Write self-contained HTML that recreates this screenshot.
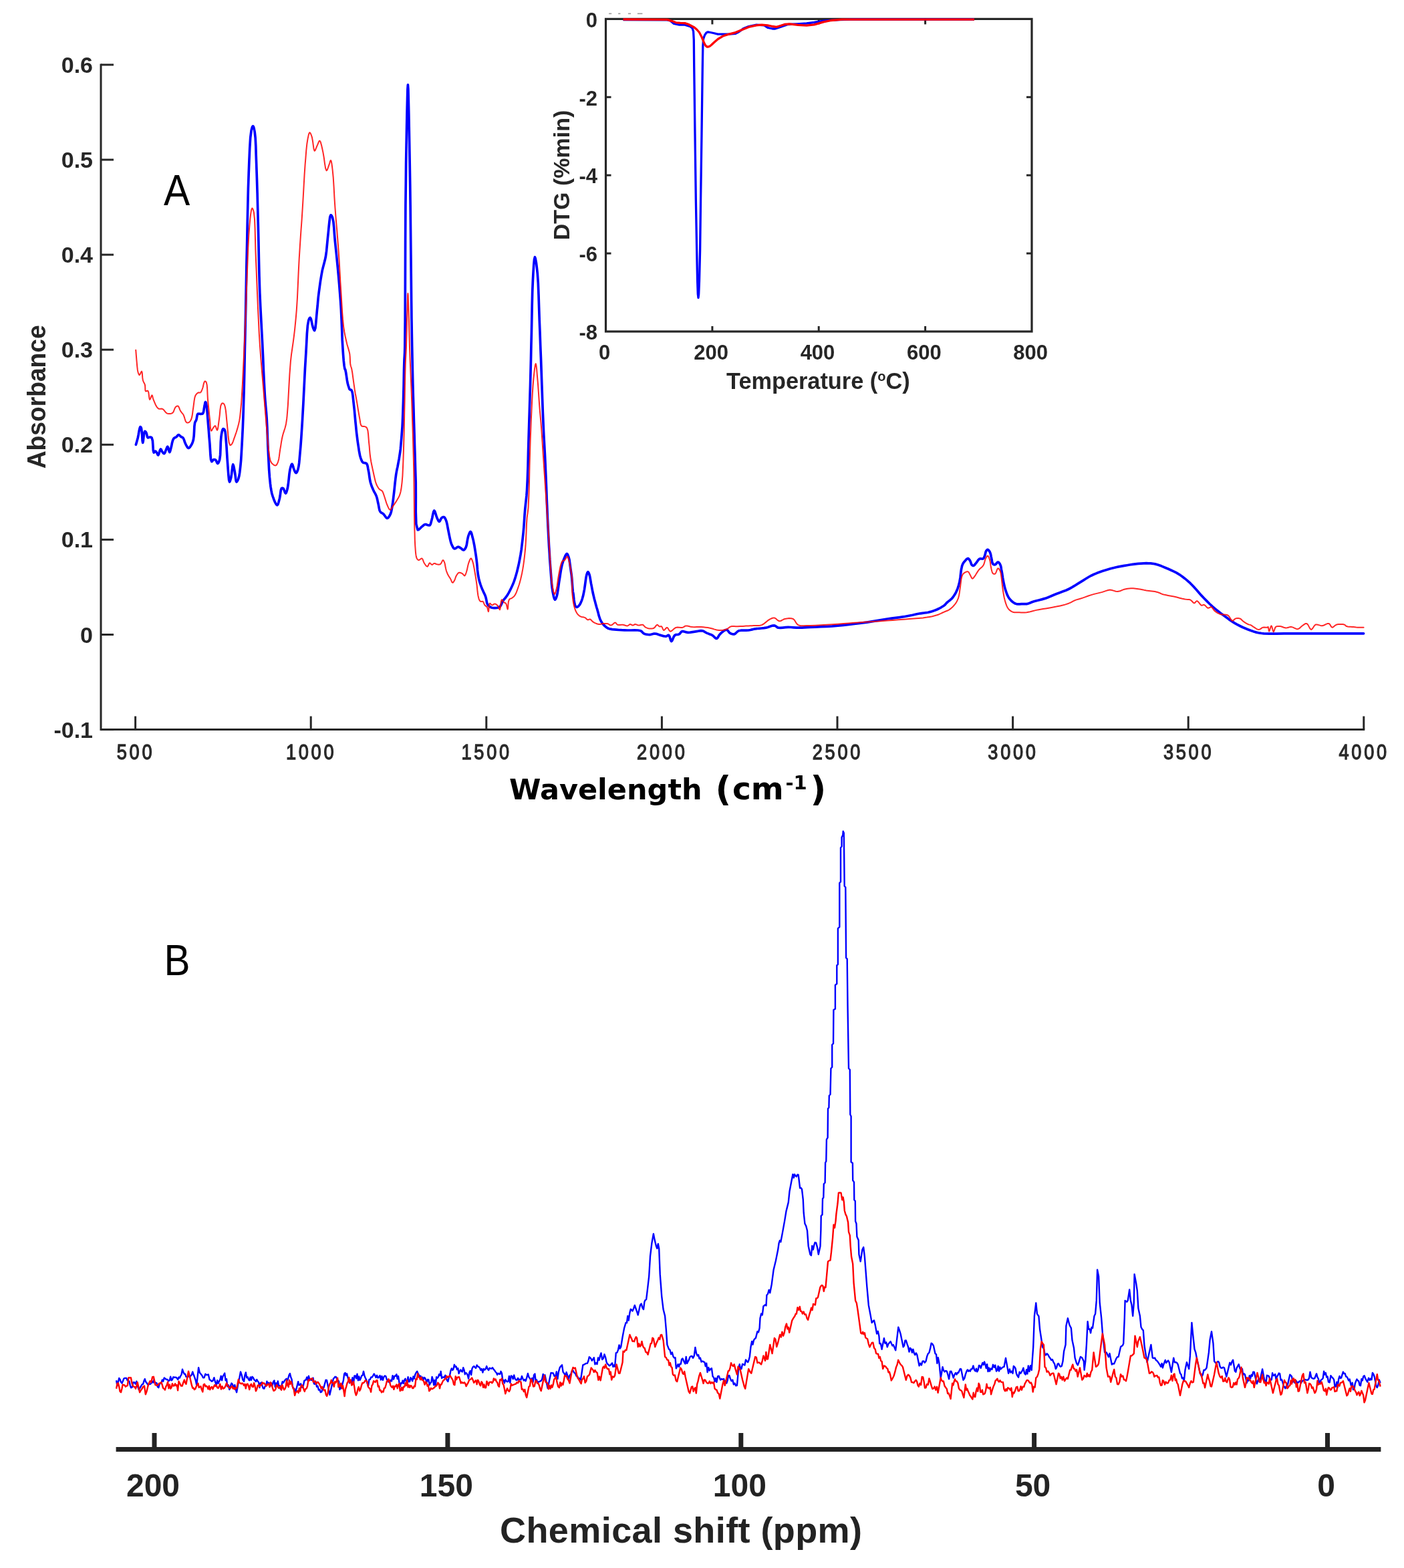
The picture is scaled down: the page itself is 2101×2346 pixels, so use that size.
<!DOCTYPE html><html><head><meta charset="utf-8"><title>Figure</title><style>html,body{margin:0;padding:0;background:#fff;overflow:hidden}svg{display:block}</style></head><body>
<svg width="2101" height="2346" viewBox="0 0 2101 2346">
<rect width="2101" height="2346" fill="#fff"/>
<g stroke="#262626" stroke-width="3" fill="none" stroke-linecap="square">
<polyline points="151,96.9 151,1091.6 2040.8,1091.6"/>
<line x1="151" y1="1091.6" x2="170" y2="1091.6" stroke-linecap="butt"/>
<line x1="151" y1="949.5" x2="170" y2="949.5" stroke-linecap="butt"/>
<line x1="151" y1="807.4" x2="170" y2="807.4" stroke-linecap="butt"/>
<line x1="151" y1="665.3" x2="170" y2="665.3" stroke-linecap="butt"/>
<line x1="151" y1="523.2" x2="170" y2="523.2" stroke-linecap="butt"/>
<line x1="151" y1="381.1" x2="170" y2="381.1" stroke-linecap="butt"/>
<line x1="151" y1="239.0" x2="170" y2="239.0" stroke-linecap="butt"/>
<line x1="151" y1="96.9" x2="170" y2="96.9" stroke-linecap="butt"/>
<line x1="202.6" y1="1091" x2="202.6" y2="1071.6" stroke-linecap="butt"/>
<line x1="465.2" y1="1091" x2="465.2" y2="1071.6" stroke-linecap="butt"/>
<line x1="727.8" y1="1091" x2="727.8" y2="1071.6" stroke-linecap="butt"/>
<line x1="990.4" y1="1091" x2="990.4" y2="1071.6" stroke-linecap="butt"/>
<line x1="1253.0" y1="1091" x2="1253.0" y2="1071.6" stroke-linecap="butt"/>
<line x1="1515.6" y1="1091" x2="1515.6" y2="1071.6" stroke-linecap="butt"/>
<line x1="1778.2" y1="1091" x2="1778.2" y2="1071.6" stroke-linecap="butt"/>
<line x1="2040.8" y1="1091" x2="2040.8" y2="1071.6" stroke-linecap="butt"/>
</g>
<g font-family="Liberation Sans, Arial, Helvetica, sans-serif" font-weight="bold" font-size="34" fill="#262626" text-anchor="end">
<text x="139" y="1103.6">-0.1</text>
<text x="139" y="961.5">0</text>
<text x="139" y="819.4">0.1</text>
<text x="139" y="677.3">0.2</text>
<text x="139" y="535.2">0.3</text>
<text x="139" y="393.1">0.4</text>
<text x="139" y="251.0">0.5</text>
<text x="139" y="108.9">0.6</text>
</g>
<g font-family="Liberation Sans, Arial, Helvetica, sans-serif" font-size="32" fill="#2a2a2a" stroke="#2a2a2a" stroke-width="1.3" text-anchor="middle" letter-spacing="4.4">
<text transform="translate(203.0,1135.8) scale(0.85,1)">500</text>
<text transform="translate(465.6,1135.8) scale(0.85,1)">1000</text>
<text transform="translate(728.2,1135.8) scale(0.85,1)">1500</text>
<text transform="translate(990.8,1135.8) scale(0.85,1)">2000</text>
<text transform="translate(1253.4,1135.8) scale(0.85,1)">2500</text>
<text transform="translate(1516.0,1135.8) scale(0.85,1)">3000</text>
<text transform="translate(1778.6,1135.8) scale(0.85,1)">3500</text>
<text transform="translate(2041.2,1135.8) scale(0.85,1)">4000</text>
</g>
<text font-family="Liberation Sans, Arial, Helvetica, sans-serif" font-weight="bold" font-size="38.5" fill="#262626" text-anchor="middle" transform="translate(67.8,593.8) rotate(-90) scale(0.967,1)">Absorbance</text>
<text font-family="DejaVu Sans, Verdana, sans-serif" font-weight="bold" fill="#000" font-size="43" x="762" y="1196.4">Wavelength</text>
<text font-family="DejaVu Sans, Verdana, sans-serif" font-weight="bold" fill="#000" font-size="52" x="1070.5" y="1198">(</text>
<text font-family="DejaVu Sans, Verdana, sans-serif" font-weight="bold" fill="#000" font-size="47" x="1096" y="1196.4">cm</text>
<text font-family="DejaVu Sans, Verdana, sans-serif" font-weight="bold" fill="#000" font-size="29" x="1175.5" y="1180.7">-1</text>
<text font-family="DejaVu Sans, Verdana, sans-serif" font-weight="bold" fill="#000" font-size="52" x="1212.5" y="1198">)</text>
<text font-family="Liberation Sans, Arial, Helvetica, sans-serif" font-size="64" fill="#000" transform="translate(245,306.9) scale(0.92,1)">A</text>
<polyline points="203.4,665.3 203.7,664.2 204.5,661.6 205.4,658.2 206.3,654.9 207.2,650.4 208.1,645.0 209.1,640.6 210.0,638.6 210.4,638.7 210.8,639.3 211.2,640.0 211.5,640.9 212.2,645.7 212.7,652.9 213.1,659.5 213.7,662.4 214.3,659.8 214.9,654.0 215.7,648.2 216.7,645.3 217.2,645.4 217.8,645.9 218.4,646.7 218.9,647.5 219.5,649.3 220.0,651.6 220.5,653.7 221.2,654.9 221.7,654.9 222.2,654.7 222.8,654.4 223.4,654.2 224.3,654.1 225.3,654.1 226.3,654.3 227.1,654.9 228.4,659.4 228.9,666.8 229.3,673.8 230.1,677.2 230.6,676.9 231.2,676.2 231.7,675.4 232.3,675.0 232.9,675.2 233.4,675.8 234.0,676.5 234.5,677.2 235.1,678.2 235.6,679.5 236.1,680.5 236.7,680.9 237.6,679.5 238.5,676.5 239.5,673.4 240.4,672.0 241.0,672.4 241.5,673.4 242.1,674.6 242.7,675.7 243.4,676.7 244.1,677.7 244.9,678.4 245.6,678.7 246.4,677.9 247.2,676.3 247.9,674.4 248.6,672.7 249.2,671.3 249.7,669.9 250.3,668.7 250.8,668.3 251.6,669.6 252.3,672.4 253.1,675.2 253.8,676.5 254.4,675.8 254.9,674.1 255.4,672.0 256.0,669.8 256.8,666.5 257.5,662.7 258.5,659.1 259.7,656.4 260.7,655.4 261.9,654.7 263.1,654.2 264.2,653.5 265.0,652.6 265.7,651.7 266.4,650.9 267.1,650.5 268.0,650.8 269.0,651.7 270.0,652.7 270.9,653.5 271.7,653.9 272.4,654.1 273.1,654.4 273.8,654.9 274.8,656.6 275.7,658.9 276.5,661.5 277.5,663.8 278.5,665.9 279.7,668.0 280.8,669.7 282.0,670.5 282.9,670.2 283.9,669.3 284.8,668.1 285.7,666.8 286.8,665.0 287.8,662.9 288.6,660.6 289.4,657.9 290.2,652.0 290.6,644.8 290.9,637.8 291.6,632.7 292.1,631.3 292.7,630.3 293.3,629.4 293.8,628.2 294.3,625.9 294.7,623.3 295.2,620.8 296.1,619.3 296.9,619.0 297.8,619.1 298.8,619.2 299.8,619.3 300.8,619.3 301.8,619.2 302.7,619.1 303.5,618.6 304.4,616.9 304.9,614.4 305.3,611.6 305.7,609.0 306.2,606.7 306.6,604.3 307.0,602.3 307.5,601.5 307.8,601.7 308.1,602.4 308.4,603.4 308.7,604.5 309.3,608.5 309.9,614.0 310.4,620.3 310.9,626.8 311.6,635.5 312.4,645.1 313.1,654.8 313.9,663.8 314.4,672.0 314.9,680.5 315.6,687.5 316.8,690.6 317.5,690.3 318.2,689.3 319.0,688.2 319.8,687.6 320.5,687.5 321.3,687.6 322.1,687.9 322.8,688.3 323.6,689.5 324.3,691.2 325.0,692.8 325.7,693.5 326.5,693.0 327.3,691.6 328.0,689.7 328.7,687.6 329.6,680.7 330.0,671.2 330.3,661.4 330.9,653.5 331.5,649.6 332.2,645.9 333.0,643.0 333.9,641.6 334.4,641.6 335.0,641.9 335.6,642.4 336.1,643.1 337.0,646.0 337.6,650.4 338.0,655.6 338.4,660.9 339.0,668.4 339.5,676.8 340.0,685.3 340.6,693.5 341.2,701.8 341.9,710.8 342.6,718.0 343.5,721.0 344.0,720.4 344.6,718.7 345.2,716.6 345.8,714.3 346.6,709.3 347.3,702.9 348.0,697.4 348.7,695.0 349.4,696.5 350.2,700.0 351.0,704.4 351.7,708.4 352.2,712.1 352.7,716.2 353.2,719.5 353.9,721.0 354.6,720.6 355.4,719.3 356.2,717.6 356.9,715.8 357.9,712.0 358.7,707.3 359.3,702.0 359.9,696.5 360.6,689.1 361.1,681.2 361.6,672.7 362.1,663.8 362.7,652.2 363.3,640.0 363.8,626.7 364.3,611.9 365.1,585.0 365.8,554.0 366.4,521.3 367.1,489.3 367.8,457.2 368.4,424.6 369.0,392.4 369.7,361.4 370.2,334.5 370.8,308.0 371.4,282.7 372.2,259.1 372.9,240.5 373.7,222.0 374.7,206.0 376.1,195.1 376.7,192.7 377.3,190.6 378.0,189.2 378.6,188.7 379.3,189.5 380.0,191.6 380.6,194.5 381.2,197.7 382.2,206.8 382.8,218.6 383.2,232.2 383.7,246.3 384.4,266.6 385.1,289.0 385.7,312.4 386.3,335.8 386.9,361.3 387.4,387.5 388.0,413.5 388.8,438.2 389.7,458.2 390.7,477.3 391.7,496.1 392.7,514.9 393.6,534.3 394.4,554.0 395.3,572.9 396.2,589.7 396.9,599.7 397.7,608.7 398.5,617.4 399.2,626.8 399.8,639.3 400.3,652.5 400.8,665.8 401.4,678.7 402.0,690.5 402.6,702.3 403.4,713.5 404.4,723.2 405.1,728.7 405.9,733.6 406.8,738.2 408.1,742.5 409.6,746.7 411.4,751.1 413.2,754.5 414.8,755.8 415.9,754.7 416.8,752.0 417.7,748.6 418.5,745.4 419.2,741.4 419.8,736.8 420.4,732.9 421.4,730.6 421.9,730.3 422.5,730.2 423.1,730.3 423.7,730.6 424.7,732.1 425.7,734.6 426.5,737.0 427.4,738.0 428.2,737.3 428.9,735.5 429.6,733.2 430.3,730.6 431.3,724.4 432.2,716.6 433.0,708.7 434.0,702.4 434.7,699.6 435.5,697.0 436.2,695.1 437.0,694.3 437.7,695.2 438.5,697.5 439.2,700.1 440.0,702.4 440.7,704.0 441.4,705.7 442.2,707.1 442.9,707.6 443.7,707.1 444.5,705.9 445.2,704.3 445.9,702.4 446.9,697.9 447.7,692.2 448.3,685.7 448.9,678.7 449.9,667.5 450.8,655.1 451.7,641.4 452.6,626.8 453.9,603.4 455.2,577.1 456.5,550.8 457.9,527.7 458.7,513.0 459.4,498.9 460.4,487.0 461.8,479.1 462.4,477.6 463.0,476.4 463.7,475.5 464.3,475.3 465.3,477.1 466.3,481.1 467.2,485.7 468.2,489.3 468.8,491.1 469.5,492.8 470.1,494.0 470.7,494.5 471.9,491.0 472.8,482.7 473.7,472.7 474.5,463.8 475.2,457.3 475.7,451.1 476.3,444.8 477.1,438.2 478.2,430.0 479.4,421.3 480.8,412.7 482.2,404.9 483.5,399.6 484.8,394.7 486.1,389.8 487.3,384.4 488.5,376.0 489.4,366.8 490.3,357.4 491.2,348.6 492.0,340.4 492.9,331.8 493.8,324.8 495.0,321.8 495.6,322.0 496.3,322.9 497.0,324.1 497.6,325.6 498.9,331.8 499.8,340.8 500.5,351.1 501.4,361.4 502.7,373.6 504.0,386.4 505.3,399.6 506.5,412.6 507.6,425.3 508.6,438.0 509.6,450.8 510.4,463.8 511.1,478.6 511.7,494.0 512.2,508.9 513.0,522.2 513.6,531.1 514.3,539.9 515.1,547.2 515.9,551.7 516.1,552.2 516.3,552.5 516.6,552.8 516.8,553.3 517.6,557.1 518.5,563.0 519.4,569.1 520.3,573.8 520.7,575.3 521.1,576.6 521.5,577.8 521.9,578.9 522.2,580.0 522.5,581.0 522.8,582.0 523.3,582.7 523.9,583.0 524.6,583.2 525.3,583.3 526.0,583.8 527.2,587.0 528.0,592.0 528.6,597.8 529.2,603.4 529.8,608.8 530.4,614.4 530.9,619.9 531.4,625.5 531.9,631.0 532.5,636.6 533.0,642.2 533.6,647.7 534.3,653.3 535.0,659.0 535.8,664.6 536.6,669.8 537.2,673.8 537.9,677.7 538.6,681.4 539.5,684.6 540.3,686.8 541.1,688.9 542.0,690.7 543.2,692.0 544.4,692.5 545.8,692.6 547.2,692.8 548.4,693.4 549.5,695.2 550.2,697.8 550.7,700.8 551.3,703.8 552.1,708.0 552.7,712.6 553.4,717.2 554.3,721.5 555.3,724.7 556.3,727.7 557.5,730.5 558.7,733.3 559.8,735.6 561.0,737.7 562.2,739.9 563.2,742.2 564.1,745.0 564.8,748.0 565.4,751.0 566.1,754.0 566.7,757.2 567.3,760.4 568.0,763.5 569.1,765.8 570.1,766.8 571.2,767.4 572.3,768.0 573.5,768.8 575.0,770.5 576.5,772.7 578.0,774.6 579.4,775.4 580.6,774.9 581.8,773.6 582.8,772.0 583.8,770.2 584.8,767.7 585.6,764.9 586.2,761.8 586.8,758.4 587.6,753.4 588.3,747.9 589.0,742.1 589.7,736.3 590.4,729.6 591.1,722.7 591.9,715.9 592.7,709.7 593.4,705.7 594.1,702.1 594.9,698.6 595.6,694.9 596.4,690.6 597.2,686.3 597.9,681.8 598.6,677.2 599.3,671.9 599.8,666.3 600.3,660.7 600.8,655.1 601.2,649.7 601.6,644.5 602.0,639.0 602.3,632.9 602.7,622.9 603.1,611.7 603.5,600.0 603.8,588.6 604.1,577.2 604.3,565.6 604.5,554.4 604.8,544.3 605.0,538.3 605.3,533.2 605.6,527.6 605.8,520.0 606.2,480.0 606.4,422.6 606.6,360.5 606.9,306.7 607.3,274.2 607.6,243.9 608.1,215.9 608.6,190.0 609.0,169.9 609.5,149.4 609.9,133.4 610.4,126.9 610.9,133.4 611.3,149.4 611.8,169.9 612.2,190.0 612.7,216.4 613.2,245.4 613.7,275.8 614.1,306.7 614.5,343.2 614.9,382.0 615.3,419.0 615.6,450.0 615.8,464.1 615.9,476.0 616.1,487.4 616.3,500.0 616.6,517.4 617.0,536.0 617.4,555.0 617.8,573.8 618.3,592.3 618.9,610.8 619.4,629.2 620.0,647.7 620.5,666.2 621.1,684.7 621.6,703.1 622.2,721.5 622.3,742.4 622.2,765.3 622.8,784.1 625.1,792.8 626.3,792.6 627.7,791.5 629.2,790.0 630.6,788.7 631.9,787.5 633.3,786.3 634.6,785.2 636.1,784.6 637.8,784.7 639.7,785.4 641.5,786.0 643.0,785.9 644.0,784.8 644.6,783.2 645.1,781.2 645.7,779.1 646.7,775.1 647.7,770.1 648.7,765.8 649.8,764.0 650.8,765.3 651.8,768.3 652.9,771.9 654.0,774.9 654.8,776.7 655.7,778.5 656.5,779.9 657.4,780.4 658.2,779.7 659.0,778.1 659.9,776.2 660.8,774.9 661.6,774.3 662.5,773.8 663.5,773.5 664.3,773.6 665.3,774.3 666.2,775.7 667.0,777.3 667.7,779.1 668.5,781.8 669.2,784.9 669.8,788.1 670.4,791.4 671.1,794.9 671.8,798.4 672.5,801.9 673.2,805.2 673.8,807.8 674.4,810.3 675.1,812.6 675.9,814.8 676.8,816.7 677.8,818.6 678.9,820.2 680.1,821.0 681.4,820.7 682.7,819.8 684.2,818.7 685.5,818.2 686.6,818.4 687.6,818.9 688.7,819.6 689.7,820.3 690.8,821.1 691.8,822.0 692.8,822.8 693.8,823.0 694.7,822.6 695.6,821.6 696.4,820.4 697.2,818.9 698.3,815.4 699.0,810.9 699.8,806.3 700.7,802.4 701.5,800.1 702.4,797.8 703.3,796.1 704.1,795.5 705.0,796.5 705.9,799.0 706.7,802.2 707.5,805.2 708.3,808.4 709.0,811.8 709.7,815.3 710.3,818.9 711.0,823.2 711.7,827.6 712.4,832.2 713.0,836.8 713.6,842.0 714.1,847.4 714.5,852.7 715.1,857.4 715.5,860.4 716.0,863.1 716.5,865.7 717.1,868.4 718.0,871.4 719.0,874.5 720.1,877.6 721.3,880.7 722.7,883.8 724.1,886.9 725.6,890.0 726.8,893.1 727.5,896.0 728.1,899.0 728.6,901.8 729.5,904.1 730.4,905.4 731.3,906.5 732.4,907.4 733.6,908.2 734.8,908.8 736.2,909.2 737.6,909.5 739.1,909.6 741.1,909.6 743.3,909.5 745.5,909.1 747.4,908.2 749.1,906.4 750.4,903.8 751.6,901.1 752.9,898.6 754.3,896.8 755.7,895.2 757.1,893.5 758.4,891.7 759.8,889.5 761.2,887.1 762.5,884.7 763.8,882.1 765.2,879.2 766.6,876.2 768.0,873.1 769.3,869.7 770.8,865.2 772.2,860.4 773.6,855.5 774.8,850.5 776.0,845.5 777.0,840.6 778.0,835.4 779.0,829.9 780.2,822.2 781.2,814.0 782.2,805.4 783.1,796.9 783.9,788.0 784.5,778.8 785.1,769.8 785.8,761.2 786.5,754.5 787.2,748.3 787.9,741.7 788.5,734.0 789.3,717.2 790.0,697.2 790.5,675.9 791.1,655.3 791.7,635.6 792.3,615.9 792.9,596.2 793.5,576.5 794.0,556.8 794.5,537.1 794.9,517.5 795.4,497.8 795.8,477.4 796.2,456.4 796.7,436.5 797.4,419.1 798.0,407.9 798.7,396.7 799.5,388.1 800.4,384.6 801.3,387.0 802.4,393.0 803.4,401.0 804.3,409.2 805.3,423.9 806.0,441.2 806.6,459.7 807.2,478.1 808.0,497.4 808.7,517.2 809.5,537.1 810.2,556.9 810.9,576.8 811.6,597.0 812.3,616.7 813.1,635.6 813.8,650.9 814.6,665.4 815.4,679.8 816.1,694.6 816.8,711.1 817.5,728.0 818.1,744.9 818.8,761.2 819.4,775.5 820.1,789.5 820.8,803.1 821.5,816.2 822.2,827.1 822.8,837.7 823.6,847.8 824.3,857.4 824.9,864.9 825.4,872.1 826.1,878.9 827.0,884.8 827.8,888.8 828.6,892.8 829.6,895.9 830.5,897.2 831.2,896.7 831.9,895.4 832.6,893.6 833.2,891.7 834.2,887.5 835.0,882.4 835.8,876.7 836.6,871.1 837.6,864.9 838.6,858.3 839.6,852.0 840.8,846.4 841.7,842.9 842.7,839.6 843.8,836.6 844.9,834.0 845.7,832.2 846.6,830.4 847.5,829.0 848.3,828.5 849.1,829.0 849.8,830.4 850.5,832.1 851.1,834.0 852.0,837.5 852.6,841.7 853.2,846.2 853.8,850.5 854.3,854.1 854.8,857.5 855.3,861.0 855.7,864.7 856.1,869.8 856.5,875.4 856.9,880.7 857.3,884.8 857.5,886.1 857.7,887.2 857.9,888.2 858.1,889.5 858.5,893.3 859.0,898.0 859.7,902.6 860.6,905.9 861.1,906.9 861.7,907.6 862.4,908.2 863.1,908.4 864.1,908.1 865.1,907.4 866.2,906.3 867.2,905.1 868.4,903.3 869.4,901.0 870.4,898.6 871.3,896.0 872.3,892.6 873.1,889.0 873.9,885.2 874.6,881.2 875.4,875.7 876.2,869.7 877.0,864.0 877.9,859.8 878.4,858.3 878.9,857.0 879.4,856.1 879.9,855.7 880.4,856.1 881.0,857.1 881.5,858.4 882.0,859.8 882.7,862.5 883.3,865.8 883.9,869.4 884.5,873.0 885.3,877.0 886.1,881.3 886.9,885.5 887.8,889.5 888.6,892.9 889.4,896.2 890.3,899.4 891.1,902.6 891.9,905.6 892.7,908.5 893.6,911.3 894.4,914.2 895.2,917.1 895.9,920.1 896.8,923.0 897.7,925.7 898.6,927.8 899.6,929.7 900.7,931.5 901.8,933.1 902.8,934.3 903.8,935.4 904.8,936.4 905.9,937.3 907.0,938.2 908.2,939.1 909.4,939.8 910.9,940.5 913.4,941.2 916.2,941.6 919.3,941.9 922.4,942.2 926.3,942.5 930.4,942.7 934.6,942.8 938.9,943.0 944.1,943.0 949.6,942.9 954.7,943.0 958.7,943.8 960.2,944.7 961.3,945.9 962.3,947.1 963.6,948.0 965.5,948.7 967.6,949.2 969.8,949.5 971.9,949.6 974.0,949.3 976.0,948.8 978.1,948.2 980.1,948.0 982.2,948.3 984.3,949.0 986.3,949.8 988.4,950.4 990.5,951.0 992.7,951.6 994.8,952.0 996.6,952.1 997.8,951.7 998.8,951.0 999.8,950.4 1000.7,950.4 1001.9,952.1 1002.9,955.2 1003.8,958.2 1004.8,959.5 1005.9,958.3 1007.0,955.6 1008.3,952.6 1009.8,950.4 1011.3,949.7 1013.1,949.5 1014.9,949.3 1016.4,948.8 1017.5,947.8 1018.4,946.6 1019.3,945.5 1020.5,944.7 1022.4,944.6 1024.7,945.2 1027.1,945.9 1029.6,946.3 1032.8,946.2 1036.2,945.7 1039.6,945.2 1042.7,944.7 1044.9,944.3 1047.0,943.9 1049.1,943.7 1051.0,943.8 1052.7,944.3 1054.3,945.2 1055.9,946.2 1057.6,947.1 1059.6,947.9 1061.7,948.7 1063.8,949.4 1065.8,950.4 1067.6,951.8 1069.3,953.5 1070.9,954.9 1072.4,955.4 1073.7,954.5 1074.8,952.8 1076.0,950.7 1077.4,948.8 1079.7,946.7 1082.3,944.5 1085.0,942.8 1087.3,942.2 1088.6,942.9 1089.8,944.3 1090.9,945.9 1092.2,947.1 1093.7,947.9 1095.4,948.5 1097.2,948.9 1098.8,948.8 1100.4,948.0 1101.9,946.5 1103.5,945.0 1105.4,943.8 1108.7,943.2 1112.6,943.1 1116.6,943.2 1120.2,943.0 1122.9,942.5 1125.5,941.9 1128.0,941.3 1130.0,940.9 1130.9,940.8 1131.7,940.7 1132.4,940.6 1133.4,940.5 1136.1,940.3 1139.5,940.0 1143.1,939.7 1146.5,939.2 1149.7,938.3 1153.0,937.1 1156.1,936.1 1158.8,935.9 1160.4,936.5 1161.7,937.4 1163.0,938.5 1164.6,939.2 1167.8,939.4 1171.5,939.1 1175.5,938.7 1179.5,938.4 1183.5,938.5 1187.6,938.8 1191.8,939.1 1195.9,939.2 1199.9,939.1 1203.8,938.9 1207.9,938.7 1212.4,938.4 1219.9,938.1 1228.2,937.7 1236.9,937.3 1245.4,936.8 1253.8,936.1 1262.2,935.3 1270.5,934.4 1278.4,933.5 1284.8,932.7 1291.0,931.9 1297.0,931.1 1303.1,930.2 1309.3,929.2 1315.4,928.1 1321.6,927.0 1327.8,926.0 1334.0,925.1 1340.2,924.4 1346.3,923.6 1352.5,922.7 1358.9,921.5 1365.5,920.2 1371.8,918.8 1377.3,917.8 1380.5,917.4 1383.3,917.0 1386.0,916.7 1388.8,916.2 1392.1,915.4 1395.4,914.4 1398.8,913.3 1402.0,912.0 1405.2,910.5 1408.3,908.8 1411.2,907.0 1413.5,905.4 1414.4,904.5 1415.1,903.7 1415.8,902.9 1416.6,902.0 1418.2,900.6 1420.1,899.1 1421.9,897.7 1423.4,896.4 1424.0,895.9 1424.5,895.4 1424.9,894.9 1425.4,894.3 1426.4,893.0 1427.6,891.3 1428.7,889.5 1429.8,887.7 1430.9,885.6 1431.8,883.5 1432.8,881.2 1433.6,878.9 1434.4,876.3 1435.1,873.6 1435.8,870.9 1436.4,867.9 1437.0,863.9 1437.5,859.5 1438.0,855.2 1438.6,851.4 1439.1,849.2 1439.5,847.2 1440.1,845.4 1440.8,843.7 1441.5,842.5 1442.3,841.3 1443.2,840.3 1444.1,839.3 1445.1,838.1 1446.3,836.8 1447.4,835.9 1448.5,835.5 1449.4,835.9 1450.3,836.9 1451.1,838.1 1451.8,839.3 1452.4,840.7 1452.9,842.2 1453.4,843.6 1454.0,844.8 1454.6,845.5 1455.3,846.0 1456.0,846.4 1456.7,846.5 1457.6,846.0 1458.5,845.1 1459.5,843.8 1460.5,842.6 1461.8,840.9 1463.1,839.0 1464.5,837.2 1466.0,836.0 1467.3,835.8 1468.6,836.0 1469.9,836.2 1471.0,836.0 1471.7,835.4 1472.3,834.7 1472.7,833.7 1473.2,832.7 1473.9,830.7 1474.5,828.2 1475.1,825.8 1475.9,824.0 1476.4,823.3 1477.0,822.8 1477.5,822.4 1478.1,822.3 1478.9,822.7 1479.8,823.7 1480.7,824.9 1481.4,826.2 1482.1,828.1 1482.7,830.3 1483.1,832.6 1483.6,834.9 1484.1,837.3 1484.5,839.8 1485.0,842.1 1485.8,843.7 1486.5,844.3 1487.4,844.7 1488.2,844.9 1489.1,844.8 1490.2,844.1 1491.3,842.8 1492.5,841.5 1493.5,841.0 1494.4,841.4 1495.3,842.3 1496.1,843.5 1496.8,844.8 1497.6,846.9 1498.1,849.3 1498.5,852.0 1499.0,854.7 1499.6,857.9 1500.1,861.2 1500.6,864.5 1501.2,867.9 1501.9,871.5 1502.7,875.2 1503.5,878.8 1504.5,882.2 1505.5,885.2 1506.5,888.0 1507.6,890.7 1508.9,893.2 1510.1,895.1 1511.5,896.8 1512.9,898.4 1514.4,899.8 1515.9,901.0 1517.5,902.1 1519.2,903.0 1521.0,903.6 1523.4,903.9 1526.0,903.9 1528.6,903.7 1530.9,903.6 1532.3,903.6 1533.6,903.7 1534.9,903.7 1536.4,903.6 1538.8,903.0 1541.5,902.0 1544.4,900.8 1547.4,899.8 1551.3,898.7 1555.4,897.7 1559.6,896.6 1563.8,895.4 1567.9,893.9 1572.0,892.3 1576.1,890.5 1580.3,888.8 1585.2,887.0 1590.2,885.1 1595.2,883.2 1600.0,881.0 1604.3,878.7 1608.4,876.2 1612.4,873.6 1616.5,871.1 1620.6,868.6 1624.7,866.0 1628.8,863.5 1633.0,861.2 1637.1,859.3 1641.2,857.6 1645.3,856.1 1649.5,854.6 1653.6,853.2 1657.7,852.0 1661.8,850.8 1665.9,849.7 1670.0,848.7 1674.1,847.9 1678.3,847.1 1682.4,846.4 1686.5,845.7 1690.6,845.0 1694.8,844.4 1698.9,843.9 1703.1,843.4 1707.3,843.1 1711.4,842.8 1715.4,842.7 1718.8,842.8 1722.0,842.9 1725.2,843.3 1728.6,843.9 1733.4,845.3 1738.4,847.1 1743.5,849.2 1748.4,851.3 1752.7,853.2 1756.8,855.1 1760.8,857.2 1764.8,859.6 1769.0,862.5 1773.2,865.7 1777.3,869.1 1781.3,872.7 1785.5,877.0 1789.6,881.6 1793.7,886.3 1797.8,890.9 1801.9,895.2 1806.0,899.4 1810.1,903.5 1814.3,907.4 1818.4,910.9 1822.5,914.2 1826.6,917.4 1830.8,920.5 1834.9,923.6 1839.0,926.6 1843.1,929.4 1847.3,932.1 1851.3,934.4 1855.4,936.5 1859.5,938.5 1863.7,940.3 1867.9,942.0 1872.1,943.6 1876.3,945.0 1880.2,946.1 1882.9,946.7 1885.3,947.2 1887.8,947.5 1891.0,947.8 1899.5,948.1 1910.3,948.1 1921.7,947.9 1932.3,947.8 1940.8,947.8 1949.1,947.8 1957.2,947.8 1965.4,947.8 1973.6,947.8 1981.6,947.8 1989.9,947.8 1998.4,947.8 2010.6,947.8 2024.5,947.8 2035.9,947.8 2040.6,947.8" fill="none" stroke="#0000ff" stroke-width="3.7" stroke-linejoin="round" stroke-linecap="round"/>
<polyline points="203.2,523.7 203.4,525.9 203.8,531.1 204.3,537.5 204.8,543.0 205.1,546.8 205.5,550.5 205.9,553.9 206.5,556.7 207.0,558.2 207.5,559.6 208.1,560.7 208.7,561.1 209.5,560.2 210.4,558.3 211.3,556.4 212.0,555.6 212.7,557.3 213.0,561.0 213.3,565.4 213.9,569.0 214.6,570.9 215.4,572.6 216.3,574.2 216.9,575.9 217.2,578.4 217.3,581.3 217.4,583.8 218.0,585.3 218.7,585.4 219.6,585.0 220.5,584.6 221.3,584.7 222.3,587.2 222.9,591.7 223.4,595.9 224.1,597.9 224.9,596.9 225.8,594.6 226.6,592.3 227.4,591.3 228.0,592.0 228.4,593.7 228.9,595.8 229.6,597.9 231.0,601.3 232.6,605.2 234.6,608.8 236.7,611.2 238.3,611.7 240.0,611.7 241.8,611.6 243.4,611.9 245.1,613.3 246.7,615.3 248.3,617.3 250.1,618.6 252.1,619.1 254.3,619.1 256.4,618.7 258.2,617.9 259.6,616.1 260.6,613.5 261.6,610.9 262.7,609.0 263.6,608.3 264.6,607.7 265.5,607.4 266.4,607.5 267.4,608.6 268.3,610.6 269.1,612.9 270.1,614.9 271.2,616.4 272.3,617.8 273.5,619.2 274.6,620.8 275.7,623.6 276.7,627.0 277.7,630.1 279.0,632.0 279.9,632.4 280.8,632.5 281.8,632.3 282.7,632.0 283.8,631.2 284.7,630.0 285.6,628.5 286.4,626.8 287.4,623.1 288.1,618.6 288.7,613.7 289.4,609.0 290.0,604.4 290.6,599.7 291.3,595.3 292.4,591.9 293.4,590.3 294.5,589.0 295.7,588.0 296.8,587.4 297.6,587.3 298.4,587.4 299.1,587.6 299.8,587.4 300.6,586.6 301.4,585.4 302.0,583.9 302.7,582.3 303.7,579.2 304.5,575.4 305.5,572.0 306.5,570.4 307.0,570.4 307.6,570.7 308.2,571.2 308.7,571.9 309.7,576.0 310.2,582.4 310.5,589.9 310.9,597.1 311.6,604.5 312.4,612.3 313.1,619.9 313.9,626.8 314.4,632.4 314.7,638.1 315.3,642.6 316.1,644.6 316.8,644.2 317.5,642.9 318.3,641.4 319.1,640.1 319.8,639.1 320.6,638.1 321.3,637.3 322.0,637.1 322.8,638.2 323.6,640.6 324.3,642.8 325.0,643.8 325.9,641.9 326.6,637.5 327.3,632.0 328.0,626.8 328.8,620.5 329.4,613.4 330.3,607.2 331.7,603.8 332.4,603.4 333.2,603.3 333.9,603.5 334.6,603.8 335.3,604.6 335.9,605.8 336.4,607.3 336.9,609.0 337.8,613.9 338.5,620.2 339.1,627.2 339.8,634.2 340.7,643.3 341.6,653.5 342.7,662.1 344.3,666.1 345.0,666.1 345.8,665.5 346.6,664.7 347.3,663.8 348.1,662.3 348.8,660.5 349.5,658.5 350.2,656.4 351.3,653.4 352.4,650.2 353.6,646.7 354.7,643.1 355.9,638.9 357.0,634.7 358.1,629.9 359.1,623.8 361.2,602.8 362.9,574.7 364.4,544.0 365.8,514.9 366.9,488.8 367.9,462.6 368.7,437.1 369.7,412.6 370.5,391.6 371.3,370.8 372.3,351.7 373.5,335.8 374.3,327.6 375.2,319.8 376.2,313.9 377.3,311.5 377.9,312.0 378.6,313.4 379.3,315.5 379.9,317.9 381.0,327.9 381.6,342.3 382.0,358.6 382.4,374.2 383.0,389.8 383.7,405.6 384.3,421.7 385.0,438.2 385.8,456.8 386.7,476.0 387.6,495.4 388.8,514.9 390.3,535.8 392.1,557.4 393.9,578.2 395.5,597.1 396.5,609.3 397.4,620.6 398.3,631.3 399.2,641.6 399.9,650.3 400.5,658.8 401.2,666.9 402.1,674.2 402.8,679.4 403.4,684.3 404.4,688.6 405.9,692.0 407.4,693.8 409.2,695.3 411.0,696.3 412.5,696.5 413.6,695.8 414.6,694.4 415.4,692.6 416.2,690.6 417.2,686.9 417.9,682.4 418.5,677.5 419.2,672.7 420.1,667.5 420.9,662.2 421.8,657.0 422.9,652.0 424.0,648.1 425.2,644.4 426.4,640.8 427.4,637.1 428.1,633.7 428.6,630.5 429.1,626.9 429.6,622.3 430.9,605.8 432.1,583.6 433.4,560.3 434.9,540.5 436.1,529.9 437.5,520.4 438.8,511.4 440.0,502.1 441.1,492.8 442.0,483.8 442.9,474.3 443.8,463.8 444.9,446.5 445.8,427.1 446.7,406.8 447.7,387.0 448.9,367.7 450.2,348.2 451.6,329.0 452.8,310.3 453.8,293.5 454.7,276.9 455.6,261.0 456.6,246.3 457.5,235.4 458.3,224.9 459.3,215.5 460.5,207.9 461.2,204.6 461.9,201.4 462.7,199.1 463.5,198.2 464.3,198.9 465.2,200.6 466.1,203.0 466.9,205.4 467.9,210.7 468.8,217.4 469.6,223.2 470.7,225.8 471.6,225.0 472.5,223.0 473.5,220.5 474.5,218.2 475.5,215.9 476.5,213.3 477.4,211.3 478.4,210.5 479.7,212.4 481.0,217.0 482.3,222.8 483.5,228.4 484.8,236.0 486.0,244.8 487.2,252.1 488.6,255.3 489.6,254.3 490.6,251.9 491.6,248.9 492.5,246.3 493.2,244.3 493.8,242.2 494.4,240.5 495.0,239.9 495.7,241.3 496.4,244.6 497.0,249.2 497.6,254.0 498.7,265.3 499.6,279.6 500.4,295.1 501.4,310.3 502.6,326.0 504.0,342.0 505.3,358.1 506.5,374.2 507.6,390.4 508.5,406.6 509.4,422.7 510.4,438.2 511.2,451.8 512.0,465.2 513.0,477.9 514.2,489.3 515.3,496.5 516.6,503.1 518.0,509.2 519.3,514.9 520.4,518.8 521.5,522.4 522.5,525.9 523.3,529.5 523.7,533.6 523.9,538.0 524.0,542.1 524.4,545.6 524.8,547.2 525.2,548.5 525.7,549.9 526.2,551.7 527.3,557.9 528.4,566.1 529.6,574.8 530.7,582.7 531.6,588.2 532.6,593.3 533.5,598.3 534.4,603.4 535.3,609.0 536.2,614.8 537.2,620.4 538.1,625.5 538.7,629.0 539.2,632.5 539.9,635.4 541.0,637.3 542.0,637.8 543.1,637.9 544.3,637.9 545.4,638.1 546.4,638.4 547.4,638.8 548.3,639.4 549.1,640.3 550.4,644.2 551.1,649.9 551.6,656.3 552.1,662.4 552.7,667.9 553.1,673.5 553.6,679.1 554.3,684.6 555.2,690.2 556.3,695.8 557.5,701.4 558.7,706.7 559.7,711.5 560.8,716.3 561.9,720.7 563.2,724.5 564.2,726.7 565.3,728.6 566.4,730.3 567.6,731.8 568.7,732.7 569.9,733.3 571.0,733.9 572.0,734.8 572.9,736.3 573.6,738.1 574.3,740.1 575.0,742.2 576.0,745.3 577.1,748.9 578.2,752.4 579.4,755.5 580.4,757.8 581.5,760.2 582.6,762.0 583.8,762.8 584.9,762.2 586.0,760.7 587.1,758.8 588.3,756.9 589.8,754.8 591.3,752.6 592.8,750.4 594.2,748.1 595.4,746.0 596.6,743.9 597.7,741.7 598.6,739.2 599.6,735.4 600.4,731.3 601.0,726.7 601.6,721.5 602.4,712.0 602.9,701.0 603.4,689.2 603.8,677.2 604.2,663.2 604.6,648.6 604.9,633.5 605.2,618.1 605.6,599.3 605.9,579.2 606.3,560.1 606.7,544.3 607.0,537.5 607.3,531.9 607.6,526.5 607.9,520.0 608.3,507.3 608.7,492.6 609.0,477.8 609.4,465.0 609.6,456.6 609.9,448.1 610.1,441.6 610.4,439.0 610.7,441.6 610.9,448.1 611.2,456.6 611.5,465.0 611.9,477.1 612.2,490.5 612.6,505.0 613.0,520.0 613.7,539.4 614.6,560.1 615.5,581.5 616.3,603.4 617.1,628.7 618.0,655.1 618.7,681.5 619.3,706.7 619.6,728.7 619.8,750.5 620.0,770.9 620.3,788.7 620.6,798.7 620.8,807.8 621.2,816.0 621.7,823.0 622.0,826.8 622.4,830.2 622.9,833.1 623.7,835.4 624.3,836.4 625.0,837.2 625.7,837.8 626.5,838.1 627.6,837.7 628.9,836.7 630.2,835.7 631.3,835.4 632.3,836.4 633.1,838.3 633.8,840.4 634.7,842.3 635.8,844.0 637.1,845.8 638.3,847.2 639.5,847.7 640.4,846.8 641.3,845.0 642.1,843.2 643.0,842.3 643.8,842.6 644.7,843.6 645.5,844.5 646.4,845.0 647.2,844.7 648.1,844.0 648.9,843.3 649.8,842.9 650.8,843.0 651.8,843.5 652.9,844.0 654.0,844.3 655.2,844.5 656.5,844.7 657.7,844.6 658.8,844.3 660.0,842.9 661.1,840.9 662.0,838.9 662.9,838.1 663.5,838.3 664.0,839.0 664.4,839.9 664.9,840.9 665.7,843.4 666.3,846.7 667.0,850.2 667.7,853.2 668.3,855.1 669.0,856.9 669.6,858.5 670.4,860.1 671.2,861.5 672.1,862.9 673.0,864.2 673.9,865.6 674.8,867.4 675.6,869.4 676.4,871.1 677.3,871.8 678.0,871.5 678.7,870.7 679.4,869.5 680.1,868.4 680.8,866.8 681.4,865.0 682.0,863.2 682.8,861.5 683.7,860.0 684.7,858.6 685.7,857.4 686.9,856.7 688.2,856.7 689.7,857.2 691.2,857.9 692.4,858.7 693.2,859.5 693.9,860.4 694.6,861.2 695.2,861.5 695.9,860.9 696.6,859.5 697.3,857.8 697.9,856.0 698.8,852.9 699.6,849.2 700.4,845.5 701.3,842.3 702.1,840.1 703.0,837.8 703.9,836.1 704.8,835.4 705.5,835.9 706.2,837.3 706.9,839.1 707.5,840.9 708.3,843.8 709.0,847.3 709.7,850.9 710.3,854.6 711.0,858.5 711.7,862.5 712.3,866.7 713.0,871.1 713.8,877.4 714.5,884.5 715.4,891.0 716.5,895.8 717.1,897.2 717.7,898.4 718.4,899.3 719.2,899.9 720.0,900.0 720.9,899.9 721.8,899.7 722.6,899.9 723.4,900.9 724.0,902.4 724.7,904.0 725.4,905.4 726.2,906.2 727.1,906.8 728.0,907.4 728.8,908.2 729.5,910.0 730.0,912.3 730.5,914.3 730.9,915.1 731.3,913.2 731.6,909.1 732.1,904.9 732.9,902.7 733.6,903.0 734.5,903.9 735.4,904.9 736.4,905.4 737.4,905.1 738.4,904.4 739.5,903.7 740.5,903.4 741.7,903.8 743.0,904.6 744.2,905.7 745.3,906.8 746.1,908.3 746.8,910.1 747.4,911.7 748.0,912.3 748.7,909.9 749.3,904.8 749.9,899.7 750.8,897.2 751.6,897.6 752.4,898.8 753.3,900.2 754.2,901.3 754.9,901.7 755.6,901.9 756.4,902.2 757.0,902.7 757.9,904.8 758.6,907.8 759.2,910.5 759.7,911.6 760.2,909.7 760.4,905.4 760.8,900.6 761.8,897.2 762.8,896.2 764.1,895.6 765.4,895.2 766.6,894.5 767.7,893.6 768.8,892.7 769.8,891.6 770.7,890.3 771.8,888.3 772.9,885.9 773.8,883.3 774.8,880.7 775.9,877.5 777.0,874.2 778.0,870.7 779.0,867.0 780.1,862.3 781.2,857.2 782.2,851.9 783.1,846.4 784.1,839.4 785.0,832.0 785.8,824.2 786.5,816.2 787.1,805.8 787.6,794.7 788.0,783.9 788.6,774.9 789.1,770.9 789.6,767.8 790.0,764.4 790.5,760.0 791.3,743.3 792.0,720.9 792.5,696.8 793.1,675.0 793.6,659.3 794.2,644.4 794.7,630.0 795.4,615.9 796.0,602.8 796.7,589.8 797.5,577.6 798.4,566.7 799.2,559.4 800.0,552.0 800.9,546.4 801.7,544.1 802.4,546.4 803.1,552.2 803.7,559.5 804.3,566.7 805.1,575.8 805.8,585.8 806.5,596.1 807.2,606.1 807.9,615.0 808.7,623.7 809.5,632.4 810.2,641.5 810.9,651.6 811.6,661.7 812.3,672.6 813.1,684.8 814.7,708.4 816.6,736.0 818.5,764.0 820.2,788.7 821.2,804.0 822.0,818.2 822.8,831.3 823.6,843.6 824.2,852.4 824.8,860.8 825.4,868.4 826.3,875.2 827.1,879.7 827.9,884.2 828.9,887.6 829.8,889.0 830.5,888.4 831.2,886.7 831.8,884.5 832.5,882.1 833.6,876.9 834.5,870.5 835.5,863.6 836.6,857.4 837.6,852.2 838.7,847.0 840.0,842.5 841.5,839.5 842.3,838.9 843.2,838.7 844.1,838.5 844.9,838.1 846.0,836.7 847.1,834.9 848.1,833.2 849.0,832.6 849.8,833.5 850.5,835.5 851.2,838.2 851.8,840.9 852.9,845.9 854.1,851.7 855.1,858.0 855.9,864.2 856.2,870.5 856.2,877.0 856.2,883.4 856.5,889.5 857.1,894.8 857.8,900.0 858.7,904.9 859.8,909.2 860.7,911.9 861.6,914.3 862.7,916.4 863.9,918.3 865.0,919.6 866.2,920.7 867.4,921.6 868.8,922.4 870.4,923.0 872.1,923.3 873.9,923.6 875.4,924.1 876.6,924.9 877.6,926.0 878.6,926.9 879.6,927.4 880.4,927.3 881.2,926.9 882.1,926.6 882.9,926.5 884.0,927.1 885.2,928.3 886.4,929.6 887.8,930.7 889.7,931.8 891.8,932.7 893.9,933.5 896.0,934.0 897.7,934.0 899.3,933.7 901.0,933.3 902.6,933.1 904.3,933.0 906.0,932.9 907.6,932.9 909.2,933.1 910.5,933.7 911.7,934.5 912.9,935.3 914.2,935.6 915.9,934.9 917.6,933.4 919.3,932.0 920.8,931.5 921.7,932.0 922.4,933.0 923.1,934.0 924.1,934.8 925.9,935.1 928.0,935.0 930.2,934.8 932.3,934.8 934.1,935.2 935.8,935.8 937.4,936.3 938.9,936.4 940.0,935.9 941.0,935.2 942.0,934.4 943.0,934.0 944.0,934.2 945.1,934.8 946.1,935.4 947.1,935.6 947.9,935.3 948.7,934.8 949.5,934.3 950.4,934.0 951.6,934.2 952.8,934.7 954.1,935.3 955.4,935.6 957.0,935.5 958.8,935.0 960.5,934.7 962.0,934.8 962.9,935.4 963.7,936.3 964.4,937.3 965.3,938.1 966.7,938.9 968.4,939.6 970.2,940.2 971.9,940.5 973.6,940.6 975.3,940.5 977.0,940.3 978.5,939.7 979.9,938.6 981.1,936.9 982.3,935.5 983.4,934.8 984.2,935.1 985.1,935.9 985.9,936.7 986.7,937.3 987.5,937.4 988.4,937.2 989.2,937.1 990.0,937.3 990.9,938.5 991.6,940.4 992.4,942.1 993.3,943.0 994.4,942.4 995.7,941.0 997.0,939.5 998.2,938.9 999.4,939.8 1000.6,941.8 1001.8,943.7 1003.2,944.7 1005.0,944.0 1007.0,942.3 1009.2,940.3 1011.4,938.9 1013.8,938.6 1016.5,938.8 1019.0,939.0 1021.3,938.9 1022.6,938.4 1023.8,937.6 1025.0,936.8 1026.3,936.4 1028.5,936.5 1030.9,937.0 1033.5,937.7 1036.2,938.1 1039.3,938.2 1042.6,938.1 1046.0,938.0 1049.3,938.1 1052.6,938.3 1055.9,938.7 1059.2,939.1 1062.5,939.7 1065.8,940.5 1069.2,941.6 1072.5,942.5 1075.7,943.0 1078.7,943.0 1081.8,942.7 1084.7,942.2 1087.3,941.4 1089.1,940.5 1090.6,939.3 1092.1,938.1 1093.8,937.3 1096.0,937.0 1098.4,937.0 1101.0,937.2 1103.7,937.3 1107.6,937.1 1112.0,936.9 1116.3,936.6 1120.2,936.4 1122.8,936.3 1125.3,936.2 1127.6,936.0 1130.0,935.9 1132.5,935.9 1135.0,935.9 1137.4,935.7 1139.9,935.1 1142.8,933.5 1145.8,931.1 1148.7,928.7 1151.4,926.9 1153.3,925.9 1155.2,925.0 1157.0,924.5 1158.8,924.4 1160.7,925.3 1162.5,926.9 1164.4,928.5 1166.3,929.3 1168.2,929.0 1170.2,928.0 1172.3,926.8 1174.5,926.0 1177.5,925.5 1180.8,925.1 1184.1,925.2 1186.9,926.0 1188.9,927.8 1190.5,930.5 1192.1,933.1 1194.3,935.1 1198.0,936.2 1202.4,936.3 1207.3,936.1 1212.4,935.9 1220.0,935.7 1228.3,935.3 1236.9,934.8 1245.4,934.3 1253.8,933.7 1262.2,933.1 1270.5,932.4 1278.4,931.8 1284.8,931.4 1291.0,931.0 1297.0,930.6 1303.1,930.2 1309.2,929.8 1315.2,929.4 1321.4,929.0 1327.8,928.5 1335.8,927.9 1344.2,927.3 1352.7,926.7 1360.8,926.0 1367.8,925.5 1374.6,924.9 1381.1,924.4 1387.1,923.6 1391.2,922.9 1395.0,922.2 1398.5,921.3 1402.0,920.3 1405.1,919.2 1408.0,917.9 1410.8,916.5 1413.5,915.3 1415.5,914.5 1417.4,913.8 1419.2,913.0 1421.0,911.9 1423.3,910.1 1425.7,907.9 1427.9,905.5 1429.8,903.1 1431.2,901.0 1432.3,898.9 1433.3,896.7 1434.2,894.3 1435.1,890.8 1435.8,886.9 1436.3,882.9 1436.9,878.9 1437.4,874.9 1437.9,870.7 1438.4,866.8 1439.1,863.5 1439.6,861.8 1440.2,860.4 1440.9,859.1 1441.9,858.0 1443.4,856.9 1445.2,855.9 1447.0,855.3 1448.5,855.3 1449.5,856.0 1450.3,857.3 1451.0,858.8 1451.8,860.2 1452.6,861.8 1453.4,863.6 1454.2,865.0 1455.1,865.7 1455.9,865.4 1456.7,864.7 1457.5,863.6 1458.4,862.4 1459.9,860.3 1461.5,857.6 1463.2,854.9 1464.9,852.5 1466.6,850.8 1468.4,849.2 1470.1,847.7 1471.5,845.9 1472.6,843.5 1473.3,840.9 1474.0,838.2 1474.8,836.0 1475.6,834.5 1476.4,833.1 1477.3,832.0 1478.1,831.6 1478.9,832.2 1479.6,833.5 1480.3,835.3 1480.9,837.1 1481.6,839.8 1482.1,843.0 1482.5,846.2 1483.1,849.2 1483.6,851.7 1484.2,854.3 1484.9,856.5 1485.8,858.0 1486.5,858.5 1487.4,858.8 1488.3,858.8 1489.1,858.6 1490.3,857.0 1491.4,854.2 1492.4,851.5 1493.5,850.3 1494.4,850.7 1495.2,851.7 1496.1,853.2 1496.8,854.7 1497.6,857.4 1498.1,860.7 1498.6,864.3 1499.0,867.9 1499.5,872.1 1500.0,876.6 1500.6,881.1 1501.2,885.5 1501.9,889.5 1502.6,893.5 1503.5,897.3 1504.5,900.9 1505.4,903.7 1506.4,906.3 1507.5,908.7 1508.9,910.8 1510.3,912.4 1511.9,913.7 1513.6,914.8 1515.5,915.7 1517.8,916.2 1520.2,916.3 1522.8,916.3 1525.4,916.3 1528.1,916.4 1530.7,916.5 1533.5,916.5 1536.4,916.3 1540.3,915.6 1544.4,914.5 1548.7,913.4 1552.9,912.4 1556.9,911.7 1560.9,911.0 1565.0,910.4 1569.3,909.7 1574.8,908.7 1580.7,907.6 1586.4,906.4 1591.3,905.3 1593.8,904.6 1595.9,903.9 1597.9,903.2 1600.0,902.4 1602.5,901.3 1605.1,899.9 1607.6,898.6 1610.0,897.6 1611.6,897.1 1613.1,896.7 1614.7,896.3 1616.5,895.8 1620.1,894.6 1624.3,893.1 1628.7,891.5 1633.0,890.1 1637.2,888.9 1641.4,887.9 1645.6,886.9 1649.5,885.9 1652.5,884.9 1655.4,883.9 1658.2,883.0 1661.0,882.6 1663.9,883.0 1666.8,883.9 1669.7,884.8 1672.5,885.1 1675.0,884.6 1677.5,883.7 1679.9,882.6 1682.4,881.8 1684.8,881.2 1687.2,880.7 1689.7,880.4 1692.3,880.2 1695.9,880.3 1699.8,880.7 1703.6,881.3 1707.1,881.8 1709.3,882.2 1711.2,882.6 1713.2,883.1 1715.4,883.5 1719.3,884.0 1723.7,884.5 1728.1,885.1 1731.9,885.9 1734.1,886.7 1736.0,887.5 1737.9,888.4 1740.1,889.2 1743.8,890.1 1748.0,890.9 1752.3,891.7 1756.6,892.5 1760.9,893.5 1765.2,894.7 1769.4,895.8 1773.1,896.6 1775.4,896.8 1777.5,896.9 1779.5,897.0 1781.3,897.5 1782.9,898.7 1784.4,900.3 1785.8,901.8 1787.1,902.4 1788.2,901.9 1789.1,900.7 1790.1,899.6 1791.2,899.1 1792.8,900.1 1794.5,902.2 1796.2,904.4 1797.8,905.7 1798.8,905.7 1799.9,905.3 1800.9,904.9 1801.9,904.9 1803.3,905.8 1804.8,907.4 1806.2,908.9 1807.7,909.8 1808.9,909.6 1810.2,909.0 1811.4,908.3 1812.6,908.2 1813.9,909.1 1815.0,910.7 1816.2,912.4 1817.6,914.0 1819.4,915.4 1821.4,916.8 1823.5,917.9 1825.8,918.9 1828.6,919.4 1831.7,919.5 1834.8,919.7 1837.4,920.5 1839.4,922.5 1841.0,925.1 1842.5,927.6 1844.0,928.8 1845.2,928.5 1846.4,927.5 1847.6,926.3 1848.9,925.5 1850.5,925.1 1852.2,925.0 1853.9,925.1 1855.5,925.5 1856.8,926.2 1858.0,927.3 1859.1,928.5 1860.4,929.6 1862.0,930.7 1863.7,931.8 1865.4,932.8 1867.0,933.7 1868.3,934.2 1869.5,934.6 1870.8,934.9 1872.0,935.4 1873.2,936.1 1874.4,937.0 1875.6,937.9 1876.9,938.7 1878.5,939.7 1880.1,940.8 1881.8,941.6 1883.5,942.0 1885.1,941.6 1886.8,940.6 1888.4,939.4 1890.1,938.7 1891.9,938.5 1893.8,938.7 1895.5,938.8 1896.7,938.7 1897.0,938.5 1897.2,938.2 1897.4,938.0 1897.6,937.9 1898.0,939.0 1898.4,941.3 1898.7,943.5 1899.2,944.5 1899.9,943.2 1900.8,940.4 1901.6,937.5 1902.5,936.2 1903.3,937.6 1904.1,940.7 1905.0,943.9 1905.8,945.3 1906.5,944.3 1907.2,942.1 1908.0,939.6 1909.1,937.9 1910.5,937.2 1912.2,937.0 1914.0,937.0 1915.8,937.1 1917.8,937.5 1919.8,938.3 1921.9,939.1 1924.0,939.5 1926.1,939.3 1928.1,938.7 1930.2,938.1 1932.3,937.9 1934.8,938.6 1937.4,939.8 1939.9,940.9 1942.2,941.2 1944.0,940.4 1945.6,939.1 1947.2,937.5 1948.8,936.2 1950.4,935.1 1952.1,933.9 1953.8,933.0 1955.4,932.9 1957.2,934.6 1958.8,937.6 1960.4,940.6 1962.1,942.0 1963.7,941.0 1965.2,938.7 1966.8,936.2 1968.7,934.6 1970.9,934.5 1973.5,935.1 1976.1,935.9 1978.6,936.2 1981.2,935.5 1983.8,934.2 1986.3,933.1 1988.5,932.9 1989.9,934.0 1991.1,935.9 1992.2,937.8 1993.5,938.7 1995.0,938.3 1996.5,937.0 1998.2,935.6 2000.1,934.6 2002.9,934.1 2006.1,933.9 2009.2,934.1 2011.7,934.6 2012.7,935.1 2013.4,935.8 2014.1,936.5 2015.0,937.1 2016.8,937.5 2018.9,937.7 2021.1,937.8 2023.3,937.9 2025.3,938.1 2027.4,938.3 2029.4,938.6 2031.5,938.7 2034.2,938.8 2037.2,938.8 2039.6,938.7 2040.6,938.7" fill="none" stroke="#ff0000" stroke-opacity="0.85" stroke-width="2" stroke-linejoin="round" stroke-linecap="round"/>
<rect x="906.5" y="28.4" width="637.5" height="467.6" fill="#fff" stroke="#262626" stroke-width="3.2"/>
<g stroke="#262626" stroke-width="3">
<line x1="1065.9" y1="496" x2="1065.9" y2="488"/><line x1="1065.9" y1="28.4" x2="1065.9" y2="36.4"/>
<line x1="1225.2" y1="496" x2="1225.2" y2="488"/><line x1="1225.2" y1="28.4" x2="1225.2" y2="36.4"/>
<line x1="1384.6" y1="496" x2="1384.6" y2="488"/><line x1="1384.6" y1="28.4" x2="1384.6" y2="36.4"/>
<line x1="906.5" y1="145.3" x2="914.5" y2="145.3"/><line x1="1544" y1="145.3" x2="1536" y2="145.3"/>
<line x1="906.5" y1="262.2" x2="914.5" y2="262.2"/><line x1="1544" y1="262.2" x2="1536" y2="262.2"/>
<line x1="906.5" y1="379.1" x2="914.5" y2="379.1"/><line x1="1544" y1="379.1" x2="1536" y2="379.1"/>
</g>
<polyline points="932.5,29.5 998.5,29.8 1003.0,31.0 1008.4,35.4 1016.6,37.1 1024.8,37.1 1033.0,39.6 1036.0,42.0 1037.6,47.0 1038.3,60.0 1038.7,100.0 1040.0,200.0 1041.3,297.0 1042.7,375.0 1043.6,420.0 1044.3,440.0 1045.0,445.5 1045.7,440.0 1046.5,420.0 1047.6,375.0 1048.6,297.0 1050.0,200.0 1051.3,100.0 1051.8,70.0 1052.6,58.0 1054.5,52.7 1057.0,49.0 1059.5,47.8 1063.0,48.5 1067.7,49.5 1074.3,51.1 1090.8,51.1 1100.7,50.3 1106.0,47.5 1112.2,42.9 1120.4,39.6 1132.0,37.1 1143.5,37.9 1149.2,41.5 1156.0,43.0 1160.0,43.0 1167.7,40.4 1179.2,36.5 1193.0,35.8 1207.0,35.0 1218.5,33.5 1232.3,31.2 1255.4,29.6 1278.5,29.0 1458.0,29.0" fill="none" stroke="#0000ff" stroke-width="3.3" stroke-linejoin="round"/>
<polyline points="932.5,29.0 998.5,29.3 1005.0,31.3 1011.6,33.8 1018.0,34.4 1024.8,34.6 1030.0,36.3 1034.7,38.7 1039.0,41.0 1043.0,44.5 1046.5,48.5 1049.6,54.4 1051.8,59.5 1053.7,64.3 1055.7,68.0 1057.8,70.0 1060.0,70.0 1062.0,69.2 1064.8,67.0 1067.7,64.3 1074.3,58.5 1082.5,53.6 1090.8,51.1 1100.7,48.6 1110.5,44.5 1120.4,40.4 1132.0,37.9 1140.0,37.2 1148.5,37.9 1156.0,39.5 1162.0,40.4 1168.0,38.5 1174.0,36.5 1181.5,35.8 1194.0,37.3 1207.0,38.1 1218.5,36.9 1232.3,32.8 1243.8,30.5 1260.0,29.2 1458.0,29.2" fill="none" stroke="#ff0000" stroke-width="3.3" stroke-linejoin="round"/>
<g font-family="Liberation Sans, Arial, Helvetica, sans-serif" font-weight="bold" font-size="31" fill="#262626" text-anchor="end">
<text x="894" y="40.6">0</text>
<text x="894" y="157.5">-2</text>
<text x="894" y="274.4">-4</text>
<text x="894" y="391.3">-6</text>
<text x="894" y="508.2">-8</text>
</g>
<g font-family="Liberation Sans, Arial, Helvetica, sans-serif" font-weight="bold" font-size="31" fill="#262626" text-anchor="middle">
<text x="904.7" y="537.5">0</text>
<text x="1064.1" y="537.5">200</text>
<text x="1223.5" y="537.5">400</text>
<text x="1382.8" y="537.5">600</text>
<text x="1542.2" y="537.5">800</text>
</g>
<text font-family="Liberation Sans, Arial, Helvetica, sans-serif" font-weight="bold" font-size="34" fill="#262626" text-anchor="middle" transform="translate(852.4,262) rotate(-90)">DTG (%min)</text>
<text font-family="Liberation Sans, Arial, Helvetica, sans-serif" font-weight="bold" font-size="34.3" fill="#262626" x="1087" y="581.9">Temperature (<tspan font-size="20" dy="-12">o</tspan><tspan dy="12">C)</tspan></text>
<rect x="860" y="0" width="700" height="19" fill="#fff"/>
<rect x="911.1" y="19.6" width="4.1" height="1.6" fill="#9a9a9a"/>
<rect x="925.1" y="19.6" width="3.3" height="1.6" fill="#9a9a9a"/>
<rect x="939.9" y="19.6" width="4.2" height="1.6" fill="#9a9a9a"/>
<rect x="953.9" y="19.6" width="7.5" height="1.6" fill="#9a9a9a"/>
<g stroke="#232323" stroke-width="7" fill="none">
<line x1="173.6" y1="2168.6" x2="2066.4" y2="2168.6"/>
<line x1="231.0" y1="2144" x2="231.0" y2="2168"/>
<line x1="669.9" y1="2144" x2="669.9" y2="2168"/>
<line x1="1108.8" y1="2144" x2="1108.8" y2="2168"/>
<line x1="1547.6" y1="2144" x2="1547.6" y2="2168"/>
<line x1="1986.5" y1="2144" x2="1986.5" y2="2168"/>
</g>
<g font-family="Liberation Sans, Arial, Helvetica, sans-serif" font-weight="bold" font-size="48" fill="#232323" text-anchor="middle">
<text x="229.0" y="2238.5">200</text>
<text x="667.9" y="2238.5">150</text>
<text x="1106.8" y="2238.5">100</text>
<text x="1545.6" y="2238.5">50</text>
<text x="1984.5" y="2238.5">0</text>
</g>
<text font-family="Liberation Sans, Arial, Helvetica, sans-serif" font-weight="bold" font-size="54" fill="#232323" letter-spacing="0.42" x="748" y="2307.5">Chemical shift (ppm)</text>
<text font-family="Liberation Sans, Arial, Helvetica, sans-serif" font-size="65" fill="#000" transform="translate(245.5,1458.5) scale(0.9,1)">B</text>
<polyline points="174.1,2065.3 175.5,2073.5 176.9,2067.4 178.2,2062.0 179.6,2064.0 181.0,2067.8 182.4,2069.5 183.8,2066.7 185.2,2062.8 186.5,2061.9 187.9,2061.9 189.2,2061.9 190.6,2065.3 192.0,2065.7 193.4,2066.7 194.8,2072.8 196.1,2076.3 197.8,2075.5 199.5,2068.1 201.1,2068.3 202.7,2070.7 204.3,2066.7 206.1,2074.3 207.8,2079.1 209.5,2076.6 211.2,2073.6 212.6,2071.3 214.0,2070.8 215.4,2066.3 216.7,2063.2 218.1,2067.4 219.8,2069.4 221.5,2072.2 223.2,2070.8 224.9,2070.8 226.3,2069.6 227.7,2066.7 229.1,2068.5 230.4,2064.3 231.8,2069.5 233.2,2068.8 234.5,2069.3 235.9,2074.9 237.3,2076.2 238.7,2070.7 240.1,2069.5 241.5,2068.8 242.8,2064.5 244.2,2066.7 245.8,2061.4 247.4,2062.8 249.0,2064.0 250.6,2063.9 252.2,2066.2 253.8,2065.3 255.2,2059.7 256.5,2065.3 257.9,2064.0 259.4,2060.3 261.0,2060.7 262.6,2060.6 264.1,2061.2 266.2,2064.0 267.6,2060.5 268.9,2061.6 270.3,2058.5 271.6,2056.3 273.0,2048.8 274.4,2053.1 275.8,2055.7 277.1,2055.8 278.5,2059.8 279.9,2060.5 281.2,2059.9 282.6,2058.5 284.0,2060.6 285.4,2058.2 286.8,2057.1 288.2,2052.5 289.5,2056.2 290.9,2059.8 292.6,2064.5 294.3,2072.2 297.1,2046.1 298.8,2053.7 300.5,2055.7 302.2,2057.8 303.9,2061.2 305.6,2061.2 307.4,2055.7 308.8,2057.1 310.1,2057.1 311.8,2056.4 313.5,2064.0 315.2,2065.3 317.0,2066.7 318.7,2065.5 320.4,2061.2 322.1,2067.8 323.8,2072.2 325.2,2065.3 326.6,2069.7 328.0,2066.7 329.4,2064.1 330.7,2058.7 332.1,2065.3 333.5,2059.1 334.8,2057.1 336.2,2054.6 337.6,2065.3 339.0,2063.2 340.3,2074.4 341.7,2072.2 343.3,2079.1 344.9,2073.6 346.5,2069.5 348.1,2071.6 349.7,2077.2 351.3,2072.2 352.7,2078.6 354.1,2083.2 356.8,2068.1 358.4,2061.0 360.0,2052.5 361.6,2057.1 363.4,2064.6 365.1,2066.7 366.5,2057.3 367.8,2053.5 369.2,2061.2 370.6,2060.2 371.9,2063.9 373.3,2065.3 374.7,2060.4 376.0,2064.8 377.4,2059.8 378.8,2061.1 380.1,2063.9 381.5,2065.3 382.9,2067.0 384.3,2064.1 385.7,2066.7 387.1,2068.1 388.4,2076.0 389.8,2069.5 391.2,2068.3 392.6,2073.9 393.9,2077.2 395.3,2077.7 396.7,2074.0 398.1,2073.9 399.4,2066.7 400.8,2070.8 402.2,2068.8 403.6,2070.1 404.9,2073.3 406.3,2069.5 407.7,2072.4 409.1,2067.3 410.4,2065.5 411.8,2075.2 413.2,2069.3 414.5,2073.8 415.8,2066.4 417.2,2073.3 418.5,2073.2 419.8,2078.1 421.3,2073.4 422.7,2067.1 424.2,2068.8 425.7,2066.0 427.1,2064.3 428.6,2062.7 429.9,2065.5 431.2,2062.4 432.6,2057.2 433.9,2055.1 435.2,2060.5 436.5,2063.4 437.8,2073.8 439.2,2078.0 440.5,2077.8 441.8,2084.7 446.2,2067.1 447.5,2072.5 448.8,2071.9 450.1,2070.2 451.4,2075.4 452.7,2075.9 454.0,2072.4 455.3,2065.9 456.7,2065.1 458.0,2064.0 459.3,2060.5 460.6,2065.6 461.9,2058.7 463.3,2063.8 464.6,2064.0 465.9,2064.9 467.2,2065.1 468.5,2061.6 469.9,2070.3 471.2,2070.8 472.5,2067.1 474.0,2074.8 475.4,2073.7 476.9,2079.6 478.4,2079.0 479.8,2083.1 481.3,2082.5 482.8,2077.8 484.4,2076.1 485.9,2070.8 487.5,2064.8 489.0,2064.9 493.4,2086.9 498.9,2062.7 500.2,2061.6 501.5,2059.8 502.9,2060.2 504.2,2063.1 505.5,2064.9 507.0,2066.5 508.4,2079.0 509.9,2075.9 511.2,2077.3 512.5,2070.6 513.9,2065.3 515.2,2055.5 516.5,2054.0 517.8,2057.9 519.1,2055.3 520.5,2061.0 521.8,2064.6 523.1,2069.3 524.6,2066.2 526.0,2068.4 527.5,2061.2 529.0,2070.0 530.4,2058.4 531.9,2058.4 533.2,2062.4 534.5,2055.7 535.9,2065.2 537.2,2059.4 538.5,2064.9 539.9,2062.2 541.2,2058.3 542.6,2057.7 544.0,2051.8 545.4,2058.1 546.8,2061.8 548.1,2064.4 549.5,2069.3 551.0,2073.9 552.4,2064.1 553.9,2063.8 555.3,2060.4 556.8,2060.6 558.2,2058.4 559.7,2055.5 561.1,2057.7 562.6,2061.1 564.1,2057.8 565.5,2061.6 567.0,2060.5 568.5,2058.1 569.9,2064.5 571.4,2058.9 572.9,2064.9 574.3,2060.3 575.8,2058.4 577.3,2059.0 578.7,2063.7 580.2,2065.5 581.7,2067.7 583.1,2068.4 584.6,2064.9 586.1,2066.4 587.5,2058.1 589.0,2063.6 590.5,2058.7 591.9,2058.9 593.4,2056.2 594.7,2063.0 596.0,2059.0 597.4,2068.4 598.7,2074.6 600.0,2069.3 601.3,2069.8 602.6,2065.6 604.0,2069.8 605.3,2064.6 606.6,2062.7 607.9,2067.0 609.2,2068.6 610.6,2060.3 611.9,2067.2 613.2,2067.1 614.5,2061.1 615.8,2062.9 617.2,2066.4 618.5,2059.5 619.8,2062.7 621.3,2056.6 622.7,2053.8 624.2,2051.8 625.5,2054.9 626.8,2057.2 628.2,2059.7 629.5,2058.8 630.8,2062.7 632.1,2060.6 633.4,2064.9 634.8,2061.0 636.1,2061.7 637.4,2064.9 638.7,2068.0 640.0,2063.9 641.4,2064.4 642.7,2072.1 644.0,2069.3 645.3,2068.2 646.6,2060.0 647.9,2064.1 649.2,2072.2 650.5,2064.9 651.8,2072.5 653.1,2060.3 654.5,2061.9 655.8,2060.3 657.1,2056.2 658.4,2058.0 659.7,2051.8 661.1,2062.0 662.4,2060.5 663.7,2060.5 665.0,2060.9 666.3,2057.7 667.7,2062.2 669.0,2065.3 670.3,2067.1 671.7,2061.2 673.0,2057.9 674.4,2050.9 675.8,2047.4 677.2,2050.0 678.5,2048.2 679.9,2041.8 681.3,2045.2 682.6,2044.4 683.9,2049.1 685.3,2047.2 686.6,2055.0 687.9,2051.8 689.2,2049.4 690.5,2051.6 691.9,2052.4 693.2,2046.2 694.5,2049.6 695.8,2056.2 697.1,2054.0 698.5,2055.0 699.8,2057.6 701.1,2062.7 702.4,2053.5 703.7,2051.0 705.1,2057.0 706.4,2048.1 707.7,2045.2 709.2,2044.1 710.6,2045.7 712.1,2047.0 713.6,2042.4 715.0,2044.4 716.5,2045.2 718.0,2046.7 719.4,2049.9 720.9,2048.1 722.4,2053.5 723.8,2048.0 725.3,2049.6 726.8,2048.0 728.2,2044.1 729.7,2048.2 731.2,2050.1 732.6,2046.8 734.1,2047.4 735.6,2047.8 737.0,2046.2 738.5,2048.6 740.0,2050.2 741.4,2052.5 742.9,2054.0 744.2,2057.0 745.5,2054.7 746.9,2055.6 748.2,2056.0 749.5,2051.8 750.9,2054.5 752.2,2064.8 753.5,2064.9 754.9,2069.3 756.3,2064.2 757.6,2066.1 759.0,2067.2 760.4,2067.1 761.9,2059.0 763.3,2068.8 764.8,2058.4 766.3,2059.2 767.7,2063.2 769.2,2057.5 770.7,2062.9 772.1,2064.5 773.6,2064.9 775.1,2061.9 776.5,2064.8 778.0,2063.6 779.5,2064.5 780.9,2058.9 782.4,2062.7 783.8,2065.4 785.2,2064.0 786.6,2066.3 788.2,2061.4 789.9,2055.0 791.5,2060.5 793.1,2062.6 794.8,2066.3 796.2,2061.9 797.6,2067.9 799.0,2057.2 800.4,2055.5 801.7,2066.9 803.1,2064.6 804.5,2069.4 805.8,2067.5 807.2,2067.1 808.6,2066.4 809.9,2065.8 811.3,2063.0 812.7,2056.0 814.0,2063.6 815.4,2057.2 819.6,2077.0 824.5,2053.9 826.2,2054.3 827.8,2054.5 829.5,2058.8 831.1,2060.0 832.8,2052.3 834.4,2063.0 836.0,2052.1 837.7,2046.3 839.3,2044.0 841.0,2042.2 842.6,2052.9 844.3,2054.7 846.0,2059.0 847.6,2053.1 849.2,2057.9 850.9,2063.0 852.5,2057.9 854.2,2056.1 855.8,2051.4 857.5,2050.6 859.1,2053.8 860.8,2054.7 862.4,2058.6 864.1,2059.3 865.7,2063.0 867.4,2062.2 869.0,2064.6 872.3,2042.4 874.0,2041.6 875.6,2040.7 877.3,2039.9 878.9,2039.9 880.5,2035.8 881.8,2030.3 883.1,2031.2 884.5,2033.0 885.8,2035.8 887.1,2034.1 888.8,2031.3 890.4,2041.2 892.1,2039.1 893.5,2041.1 895.0,2031.5 896.5,2035.1 897.9,2029.2 899.5,2024.5 901.2,2034.1 902.8,2032.4 904.5,2026.3 906.1,2030.8 907.5,2037.7 908.8,2040.5 910.2,2041.5 911.9,2043.4 913.5,2042.4 914.8,2040.7 916.1,2039.4 917.5,2045.0 918.8,2042.4 920.1,2044.8 921.8,2024.2 923.5,2023.7 925.1,2019.3 926.5,2012.4 927.8,2017.7 929.2,2015.2 931.6,2000.3 934.1,1987.1 936.6,1978.9 938.0,1979.2 939.3,1968.9 940.7,1975.6 942.4,1964.1 943.8,1958.8 945.1,1959.8 946.5,1961.6 948.1,1957.9 949.8,1952.9 951.4,1957.5 953.0,1962.2 954.7,1967.4 958.0,1952.5 959.7,1950.6 961.3,1956.3 963.0,1959.1 964.4,1947.8 965.7,1945.0 967.1,1944.3 968.7,1931.1 971.2,1909.7 973.0,1879.7 975.4,1859.9 977.9,1845.9 979.6,1854.9 982.0,1864.8 983.4,1867.9 984.8,1861.0 986.2,1868.1 987.7,1906.4 990.2,1939.3 992.6,1959.1 995.1,1969.0 996.8,1988.8 998.4,2011.9 1000.9,2018.5 1002.5,2019.7 1004.2,2026.2 1005.8,2023.4 1007.5,2029.8 1009.1,2031.6 1010.5,2031.3 1011.8,2047.4 1013.2,2044.8 1014.6,2041.2 1016.0,2044.8 1017.4,2040.7 1018.8,2040.8 1020.1,2033.8 1021.5,2032.5 1024.0,2038.2 1025.4,2040.5 1026.7,2029.9 1028.1,2039.9 1029.5,2037.2 1030.9,2034.7 1032.4,2030.4 1033.8,2029.2 1035.5,2029.0 1037.1,2031.8 1038.8,2028.4 1040.4,2016.0 1042.1,2024.9 1043.7,2028.4 1045.1,2027.0 1046.5,2032.8 1047.9,2031.6 1049.6,2037.6 1051.2,2036.6 1052.8,2037.4 1054.4,2038.2 1055.8,2044.1 1057.2,2039.7 1058.6,2053.1 1060.2,2045.9 1061.7,2050.6 1063.3,2048.1 1064.9,2047.2 1066.6,2059.3 1068.2,2061.3 1069.6,2067.0 1071.0,2062.1 1072.4,2067.9 1074.1,2059.1 1075.7,2058.8 1078.1,2064.6 1079.8,2063.0 1081.4,2063.9 1083.1,2063.0 1084.5,2067.5 1085.8,2066.3 1087.2,2069.6 1088.6,2065.5 1089.9,2058.2 1091.3,2058.0 1092.9,2062.7 1094.6,2066.3 1096.3,2064.5 1097.9,2071.4 1099.6,2069.6 1101.2,2073.2 1102.9,2072.9 1105.3,2046.5 1106.7,2041.2 1108.1,2048.3 1109.5,2048.1 1111.1,2040.8 1112.7,2041.5 1114.4,2042.6 1116.0,2034.4 1117.7,2036.6 1119.1,2038.2 1120.4,2035.3 1121.8,2030.0 1123.5,2015.2 1125.1,2006.9 1126.5,2011.7 1128.0,2005.1 1129.5,2003.0 1130.9,2002.0 1133.4,1992.1 1135.0,1993.2 1136.6,1987.1 1137.5,1972.3 1139.2,1965.4 1140.8,1967.4 1142.4,1954.2 1143.8,1953.4 1145.1,1952.2 1146.5,1953.4 1147.4,1937.7 1149.0,1936.0 1150.7,1929.9 1152.3,1934.4 1154.8,1921.2 1157.6,1899.9 1160.9,1886.3 1164.2,1869.8 1165.6,1860.0 1166.9,1856.0 1168.3,1858.2 1170.8,1845.1 1174.1,1826.9 1176.5,1812.1 1179.8,1798.9 1181.5,1782.4 1184.0,1769.2 1186.4,1756.9 1187.8,1762.1 1189.1,1757.0 1190.5,1759.3 1191.9,1760.4 1193.3,1757.4 1194.7,1757.7 1197.1,1777.5 1198.5,1777.2 1200.0,1779.3 1201.8,1795.2 1202.7,1814.7 1204.4,1830.7 1206.2,1834.2 1208.0,1841.3 1209.7,1864.4 1212.4,1876.8 1213.9,1878.3 1215.3,1864.0 1216.8,1869.7 1218.2,1863.2 1219.5,1859.0 1221.2,1859.5 1223.0,1866.1 1224.8,1876.8 1227.5,1864.4 1228.4,1839.5 1228.7,1819.2 1230.5,1817.4 1231.0,1793.5 1232.3,1791.7 1232.8,1771.3 1234.6,1769.5 1235.1,1739.4 1236.3,1737.6 1236.9,1704.8 1238.6,1702.2 1239.0,1658.8 1240.4,1657.0 1240.8,1639.3 1242.5,1637.5 1243.4,1598.5 1245.2,1596.7 1245.2,1563.0 1247.0,1561.3 1247.4,1511.0 1249.9,1509.4 1249.9,1473.7 1252.3,1472.0 1252.3,1444.4 1253.9,1442.8 1253.9,1389.2 1256.3,1386.8 1256.3,1321.0 1258.0,1319.3 1258.0,1268.2 1259.6,1266.5 1259.6,1252.7 1261.2,1249.5 1261.7,1243.8 1262.8,1246.2 1263.7,1325.8 1265.3,1327.5 1266.1,1433.1 1267.7,1434.7 1268.5,1504.5 1270.0,1598.5 1271.8,1600.3 1272.3,1667.6 1273.6,1670.3 1273.6,1738.5 1275.9,1740.3 1276.2,1766.0 1278.0,1768.6 1278.3,1795.2 1279.8,1797.0 1280.1,1827.1 1281.5,1830.7 1282.4,1850.2 1284.7,1855.5 1285.4,1876.8 1287.7,1887.4 1290.4,1869.7 1292.2,1866.1 1293.9,1880.3 1297.3,1924.7 1299.8,1952.7 1302.3,1965.9 1304.7,1979.1 1306.4,1976.7 1308.0,1975.5 1309.7,1982.4 1312.1,1995.6 1313.8,1991.8 1315.4,1998.9 1316.3,2010.4 1317.9,2010.2 1319.6,2018.7 1322.9,2002.2 1324.5,2009.8 1326.2,2008.3 1327.8,2015.4 1329.4,2010.7 1331.1,2008.9 1332.7,2007.1 1334.1,2010.4 1335.5,2013.4 1336.9,2012.1 1338.6,2016.4 1340.2,2020.3 1344.3,1985.7 1345.9,1990.2 1347.6,1995.6 1351.7,2015.4 1353.1,2013.4 1354.4,2005.7 1355.8,2005.5 1357.4,2010.7 1359.1,2015.4 1360.5,2022.6 1362.0,2016.9 1363.5,2018.3 1364.9,2023.6 1366.4,2018.8 1367.9,2024.7 1369.3,2027.2 1370.8,2024.4 1372.3,2026.9 1375.6,2043.4 1377.2,2039.7 1378.9,2042.5 1380.5,2036.8 1382.2,2036.5 1383.8,2038.7 1385.5,2036.8 1387.2,2029.4 1388.8,2025.3 1390.4,2023.9 1392.1,2017.4 1393.7,2009.6 1395.3,2010.8 1397.0,2013.7 1399.5,2025.3 1401.0,2026.2 1402.4,2039.9 1403.8,2031.3 1405.3,2038.5 1407.7,2061.5 1409.1,2054.1 1410.5,2045.2 1411.9,2050.0 1413.5,2052.4 1415.2,2050.9 1416.8,2051.6 1418.4,2056.7 1420.1,2063.2 1421.8,2052.0 1423.4,2051.6 1425.1,2056.2 1426.7,2061.5 1428.3,2056.9 1430.0,2054.0 1431.6,2056.6 1432.9,2053.8 1434.2,2054.0 1435.6,2050.8 1436.9,2048.0 1438.2,2048.4 1441.5,2064.8 1443.2,2062.4 1444.8,2056.4 1446.5,2051.6 1447.8,2049.4 1449.1,2051.8 1450.5,2050.3 1451.8,2051.7 1453.1,2048.4 1454.8,2048.2 1456.4,2043.4 1458.1,2049.6 1459.7,2051.6 1461.0,2047.7 1462.3,2052.3 1463.7,2049.6 1465.0,2042.9 1466.3,2043.4 1467.7,2046.9 1469.0,2042.8 1470.4,2039.0 1471.8,2041.9 1473.1,2037.5 1474.5,2041.8 1475.8,2047.1 1477.1,2041.2 1478.5,2052.1 1479.8,2046.5 1481.1,2051.6 1482.7,2047.5 1484.4,2048.9 1486.0,2041.8 1487.7,2045.9 1489.3,2042.6 1491.0,2051.6 1492.3,2050.2 1493.6,2044.0 1495.0,2051.5 1496.3,2045.4 1497.6,2048.4 1499.2,2046.7 1500.9,2045.4 1502.5,2045.1 1505.0,2031.9 1509.1,2054.9 1510.8,2048.5 1512.4,2053.5 1514.1,2051.6 1515.5,2054.9 1516.8,2044.0 1518.2,2045.1 1519.6,2047.3 1520.9,2054.7 1522.3,2058.2 1524.0,2060.7 1525.6,2052.8 1527.3,2054.9 1528.7,2052.5 1530.0,2050.3 1531.4,2046.7 1533.1,2054.8 1534.7,2056.6 1536.1,2049.2 1537.4,2055.5 1538.8,2043.4 1540.4,2052.0 1542.1,2043.1 1543.7,2050.0 1546.2,2015.4 1547.9,1969.2 1550.3,1949.5 1552.0,1965.9 1554.4,1969.2 1556.1,1989.0 1558.6,2005.5 1560.2,2015.4 1561.8,2017.5 1563.5,2025.3 1565.1,2027.4 1566.7,2025.3 1568.3,2026.8 1569.9,2030.0 1571.6,2032.2 1573.2,2034.9 1574.8,2033.9 1576.5,2038.2 1578.2,2040.9 1579.8,2048.1 1581.2,2045.8 1582.5,2041.0 1583.9,2039.9 1585.6,2043.3 1587.2,2044.8 1588.8,2043.8 1590.5,2036.6 1592.1,2021.8 1594.6,2011.9 1595.4,1983.8 1597.9,1972.3 1600.4,1982.2 1602.9,1987.1 1604.5,2005.3 1607.0,2016.8 1608.6,2031.6 1611.1,2039.9 1612.8,2042.4 1614.4,2038.2 1616.9,2030.0 1619.3,2031.6 1621.8,2036.6 1622.6,2049.8 1624.3,2036.6 1625.9,2011.9 1627.6,1977.3 1629.2,1988.8 1630.7,1988.4 1632.1,1994.4 1633.5,1986.0 1635.0,1987.1 1637.5,1969.0 1639.1,1965.7 1640.8,1945.9 1642.1,1899.8 1644.1,1909.7 1645.7,1949.2 1648.2,1972.3 1649.8,1993.7 1653.1,2023.4 1655.6,2023.4 1657.2,2026.6 1658.9,2030.2 1660.5,2025.1 1663.8,2041.5 1665.5,2040.2 1667.1,2040.6 1668.8,2036.6 1670.4,2032.6 1672.1,2030.1 1673.7,2030.0 1677.0,2015.2 1678.4,2014.0 1679.8,2013.2 1681.2,2010.2 1682.8,1972.3 1683.6,1945.9 1685.0,1946.9 1686.3,1947.8 1687.7,1945.9 1690.2,1929.5 1691.9,1945.9 1693.5,1952.5 1695.2,1969.0 1696.8,1949.2 1697.6,1906.4 1700.1,1919.6 1701.8,1931.1 1703.4,1957.5 1705.9,1969.0 1707.5,1985.5 1709.2,1988.8 1710.8,1990.4 1712.5,2013.5 1714.9,2028.4 1716.6,2038.2 1719.1,2026.7 1722.4,2011.9 1724.8,2031.6 1726.5,2032.2 1728.1,2031.6 1729.8,2034.9 1731.4,2036.0 1733.1,2038.2 1734.5,2040.4 1735.8,2042.3 1737.2,2044.8 1738.6,2040.0 1739.9,2046.5 1741.3,2041.5 1743.8,2034.9 1745.2,2039.1 1746.7,2037.1 1748.1,2035.6 1749.6,2038.2 1752.9,2053.1 1756.2,2031.6 1757.8,2038.3 1759.4,2038.2 1761.1,2038.9 1762.7,2041.5 1766.0,2054.7 1767.5,2056.6 1768.9,2062.2 1770.3,2061.4 1771.8,2066.3 1773.5,2049.8 1775.9,2038.2 1777.6,2043.4 1779.2,2048.1 1780.9,2028.4 1783.4,1978.9 1785.0,1995.4 1787.5,2018.5 1789.2,2023.3 1790.8,2031.6 1794.1,2046.5 1795.5,2052.7 1796.8,2056.5 1798.2,2059.7 1799.8,2056.9 1801.5,2049.8 1802.9,2050.0 1804.2,2048.5 1805.6,2046.5 1808.9,2023.4 1810.5,2005.3 1813.0,1992.1 1815.5,2010.2 1817.1,2036.6 1818.5,2038.2 1819.9,2040.1 1821.3,2038.2 1822.7,2037.0 1824.2,2038.4 1825.6,2044.5 1827.0,2046.5 1828.7,2046.9 1830.3,2045.6 1832.0,2046.5 1835.3,2059.7 1840.3,2038.8 1841.9,2042.1 1843.5,2037.4 1845.1,2034.7 1847.9,2051.2 1849.3,2052.8 1850.6,2046.8 1852.0,2044.3 1853.7,2041.2 1855.4,2047.1 1857.5,2051.2 1858.9,2048.0 1860.2,2057.3 1861.6,2055.3 1863.0,2056.7 1865.7,2069.1 1867.1,2063.8 1868.4,2065.8 1869.8,2058.1 1871.2,2062.4 1872.6,2057.0 1873.9,2058.8 1875.3,2052.6 1876.7,2052.6 1880.8,2070.4 1882.2,2066.4 1883.5,2063.2 1884.9,2067.7 1889.1,2048.5 1891.1,2059.5 1892.8,2067.0 1894.6,2067.7 1895.9,2057.8 1897.3,2058.1 1898.7,2059.0 1900.0,2062.7 1901.4,2064.9 1902.8,2064.4 1904.1,2054.3 1905.5,2058.1 1906.9,2057.6 1908.2,2056.1 1909.6,2063.7 1911.0,2059.5 1912.4,2057.4 1913.8,2054.5 1915.2,2055.3 1916.6,2064.8 1917.9,2064.0 1919.3,2067.7 1920.7,2073.3 1922.0,2075.0 1923.4,2077.3 1924.8,2073.9 1926.1,2074.1 1927.5,2069.1 1930.3,2056.7 1931.7,2057.9 1933.0,2059.5 1934.4,2067.7 1935.8,2065.1 1937.2,2068.9 1938.5,2065.3 1939.9,2066.3 1941.3,2069.6 1942.7,2068.5 1944.0,2066.9 1945.4,2066.3 1946.8,2069.4 1948.2,2066.7 1949.5,2066.2 1950.9,2064.9 1952.3,2063.9 1953.7,2064.5 1955.0,2064.6 1956.4,2064.9 1957.8,2064.1 1959.1,2061.6 1960.5,2052.6 1962.2,2060.8 1963.9,2062.2 1965.7,2062.9 1967.4,2062.2 1968.8,2058.3 1970.1,2055.3 1971.5,2060.6 1972.8,2062.6 1974.2,2069.1 1975.6,2067.2 1977.0,2064.5 1978.3,2063.7 1979.7,2062.2 1981.1,2051.8 1982.4,2056.6 1983.8,2054.0 1985.2,2060.5 1986.6,2059.6 1988.0,2067.7 1989.7,2068.4 1991.4,2058.1 1993.1,2060.5 1994.8,2062.2 1996.2,2064.4 1997.6,2074.9 1999.0,2074.6 2000.4,2067.8 2001.7,2075.8 2003.1,2063.6 2004.5,2059.0 2005.8,2062.1 2007.2,2061.5 2008.5,2056.9 2009.9,2052.6 2011.3,2055.2 2012.7,2054.9 2014.1,2059.5 2015.5,2060.0 2016.8,2062.2 2018.2,2065.6 2019.6,2063.6 2022.3,2074.6 2023.7,2068.8 2025.0,2079.2 2026.4,2078.7 2027.8,2070.0 2029.1,2066.6 2030.5,2063.6 2031.9,2065.6 2033.2,2066.3 2034.6,2072.6 2036.0,2073.2 2037.4,2063.3 2038.8,2065.5 2040.2,2059.5 2041.7,2058.2 2043.2,2062.3 2044.8,2065.3 2046.3,2067.7 2048.1,2061.7 2049.8,2064.9 2051.2,2062.5 2052.5,2064.3 2053.9,2054.0 2055.3,2055.9 2056.6,2059.3 2058.0,2066.3 2059.4,2073.3 2060.7,2076.1 2062.1,2073.2 2063.8,2064.5 2065.6,2069.1" fill="none" stroke="#0000ff" stroke-width="2.4" stroke-linejoin="round"/>
<polyline points="174.1,2077.7 175.5,2069.6 176.9,2069.5 178.3,2075.3 179.6,2081.9 181.0,2083.2 182.4,2077.8 183.7,2071.5 185.1,2072.2 186.5,2072.5 187.8,2074.7 189.2,2073.6 190.8,2073.1 192.4,2061.3 194.0,2061.2 195.8,2061.1 197.5,2069.5 198.9,2073.6 200.2,2074.7 201.6,2074.9 203.0,2077.7 204.3,2073.6 205.7,2068.1 209.1,2083.2 210.8,2080.1 212.6,2077.7 214.3,2074.7 216.0,2073.6 217.8,2086.2 219.5,2081.8 221.2,2074.7 222.9,2069.5 224.6,2066.2 226.3,2068.1 228.1,2060.2 229.8,2059.8 232.5,2072.2 233.9,2072.5 235.2,2072.7 236.6,2072.2 238.2,2069.7 239.8,2069.3 241.4,2068.1 242.8,2072.2 244.1,2076.8 245.5,2077.7 246.9,2079.5 248.3,2074.7 249.7,2072.2 251.1,2067.7 252.4,2077.3 253.8,2071.6 255.2,2077.7 256.6,2075.8 257.9,2070.1 259.3,2073.6 260.7,2073.3 262.1,2070.3 263.4,2073.3 264.8,2072.2 266.1,2080.3 267.5,2066.7 269.2,2070.0 271.0,2073.6 272.7,2073.6 274.4,2068.1 275.8,2064.6 277.1,2068.9 278.5,2070.8 282.0,2051.6 284.0,2059.8 286.8,2072.2 288.2,2076.7 289.5,2076.5 290.9,2079.1 292.3,2078.0 293.6,2074.8 295.0,2072.2 296.4,2069.8 297.7,2075.9 299.1,2074.9 300.5,2074.3 301.9,2079.1 303.3,2082.5 304.6,2071.9 306.0,2070.8 307.4,2074.4 308.7,2073.5 310.1,2074.9 311.5,2078.4 312.9,2073.6 314.2,2079.2 315.6,2076.3 317.0,2074.9 318.4,2078.4 319.7,2075.3 321.1,2072.2 322.5,2074.0 323.8,2072.4 325.2,2076.3 326.6,2077.0 327.9,2074.2 329.3,2070.8 330.9,2078.5 332.5,2074.2 334.1,2077.7 335.7,2076.8 337.4,2073.9 339.0,2069.5 340.4,2072.7 341.7,2074.7 343.1,2076.3 344.5,2077.3 345.9,2075.0 347.2,2074.0 348.6,2077.7 350.0,2075.9 351.3,2078.7 352.7,2076.3 354.1,2077.2 355.4,2071.3 356.8,2064.0 358.2,2068.9 359.6,2069.3 360.9,2070.4 362.3,2069.5 363.7,2070.5 365.0,2072.9 366.4,2070.8 367.8,2077.4 369.1,2071.1 370.5,2070.6 371.9,2073.6 373.3,2079.1 374.6,2072.5 376.0,2070.8 377.4,2074.7 378.8,2075.1 380.1,2069.2 381.5,2073.6 382.9,2081.3 384.2,2078.8 385.6,2073.1 387.0,2072.2 388.4,2074.7 389.8,2072.6 391.2,2072.2 392.6,2068.4 393.9,2070.0 395.3,2069.5 396.7,2071.1 398.1,2073.8 399.4,2072.8 400.8,2070.8 402.2,2071.0 403.6,2075.3 404.9,2068.3 406.3,2070.8 407.9,2076.6 409.4,2080.8 411.0,2080.3 412.5,2078.2 413.9,2072.2 415.4,2074.0 416.9,2076.7 418.3,2076.5 419.8,2073.7 421.1,2079.7 422.4,2072.1 423.8,2076.3 425.1,2079.4 426.4,2078.1 427.7,2074.9 429.0,2065.0 430.4,2072.8 431.7,2075.2 433.0,2064.9 434.3,2070.9 435.6,2067.2 437.0,2071.5 438.3,2076.2 439.6,2078.1 441.1,2087.8 442.5,2083.1 444.0,2082.5 445.3,2081.1 446.6,2084.1 447.9,2077.0 449.2,2081.6 450.5,2073.7 451.8,2072.3 453.1,2073.9 454.5,2078.7 455.8,2081.9 457.1,2078.1 458.6,2077.7 460.0,2074.0 461.5,2064.4 463.0,2065.5 464.4,2063.3 465.9,2062.7 467.4,2062.4 468.8,2067.6 470.3,2067.1 471.6,2066.4 472.9,2070.6 474.3,2068.7 475.6,2067.8 476.9,2069.3 478.2,2071.4 479.5,2074.2 480.9,2077.4 482.2,2074.8 483.5,2078.1 485.0,2080.3 486.4,2079.5 487.9,2086.9 489.2,2088.7 490.5,2084.7 491.9,2075.7 493.2,2071.2 494.5,2069.3 495.8,2064.8 497.1,2069.0 498.5,2068.7 499.8,2074.7 501.1,2067.1 502.4,2068.8 503.7,2066.3 505.1,2061.7 506.4,2075.3 507.7,2071.5 509.0,2073.9 510.3,2069.7 511.7,2077.4 513.0,2073.2 514.3,2080.3 515.6,2089.1 516.9,2078.7 518.3,2074.3 519.6,2069.2 520.9,2067.1 522.2,2060.9 523.5,2068.4 524.9,2064.6 526.2,2072.6 527.5,2071.5 528.8,2067.1 530.1,2073.8 531.5,2083.4 532.8,2087.5 534.1,2084.7 535.4,2078.6 536.7,2075.2 538.1,2081.0 539.4,2078.7 540.7,2073.7 542.2,2069.3 543.6,2069.2 545.1,2068.1 546.6,2065.4 548.0,2066.0 549.5,2067.1 550.9,2074.9 552.4,2076.7 553.8,2078.1 555.1,2082.7 556.4,2073.4 557.8,2071.1 559.1,2066.1 560.4,2067.1 561.7,2068.0 563.0,2065.4 564.4,2065.2 565.7,2074.7 567.0,2073.7 568.3,2080.2 569.6,2080.0 571.0,2083.4 572.3,2081.6 573.6,2082.5 574.9,2077.0 576.2,2076.6 577.6,2072.0 578.9,2066.5 580.2,2067.1 581.5,2063.3 582.8,2065.7 584.2,2072.4 585.5,2074.6 586.8,2075.9 588.1,2073.5 589.4,2078.9 590.8,2073.9 592.1,2074.3 593.4,2071.5 594.7,2077.3 596.0,2072.3 597.4,2070.3 598.7,2081.0 600.0,2080.3 601.3,2075.8 602.6,2080.2 604.0,2074.8 605.3,2074.8 606.6,2069.3 607.9,2073.1 609.2,2065.1 610.6,2075.6 611.9,2072.4 613.2,2075.9 614.5,2073.0 615.8,2073.6 617.2,2077.1 618.5,2077.1 619.8,2073.7 621.1,2074.4 622.4,2062.9 623.8,2063.8 625.1,2055.3 626.4,2060.5 627.7,2061.0 629.0,2064.2 630.4,2060.6 631.7,2064.8 633.0,2064.9 634.3,2067.4 635.6,2071.7 637.0,2067.5 638.3,2069.2 639.6,2073.7 640.9,2072.1 642.2,2081.2 643.6,2079.9 644.9,2076.8 646.2,2078.1 647.5,2078.0 648.8,2076.7 650.1,2076.1 651.4,2073.9 652.7,2073.7 654.0,2072.2 655.3,2068.7 656.7,2070.3 658.0,2077.4 659.3,2071.5 660.6,2071.5 661.9,2068.2 663.3,2065.5 664.6,2064.7 665.9,2062.7 667.2,2063.0 668.5,2058.8 669.9,2060.8 671.2,2060.1 672.5,2058.4 673.8,2058.5 675.1,2061.0 676.5,2063.0 677.8,2065.4 679.1,2071.5 680.4,2072.2 681.7,2059.3 683.1,2064.0 684.4,2060.7 685.7,2060.5 687.0,2060.2 688.3,2064.3 689.7,2069.5 691.0,2067.8 692.3,2069.3 693.6,2069.3 694.9,2068.2 696.3,2070.2 697.6,2074.1 698.9,2071.5 700.4,2069.1 701.8,2065.5 703.3,2064.0 704.8,2063.4 706.2,2061.4 707.7,2064.9 709.2,2068.9 710.6,2066.8 712.1,2065.2 713.6,2071.2 715.0,2064.6 716.5,2067.1 717.8,2071.3 719.1,2073.3 720.5,2067.3 721.8,2069.0 723.1,2075.9 724.4,2071.5 725.7,2076.3 727.1,2076.2 728.4,2066.6 729.7,2069.3 731.0,2072.8 732.3,2068.0 733.7,2068.0 735.0,2067.5 736.3,2069.3 737.6,2067.8 738.9,2062.4 740.3,2064.7 741.6,2063.5 742.9,2067.1 744.2,2068.3 745.5,2073.1 746.9,2074.8 748.2,2064.2 749.5,2064.9 750.9,2062.5 752.2,2070.2 753.5,2071.7 754.9,2078.1 756.3,2085.2 757.6,2081.1 759.0,2077.3 760.4,2080.3 761.9,2081.9 763.3,2079.1 764.8,2070.5 766.3,2072.7 767.7,2072.2 769.2,2071.5 770.7,2070.8 772.1,2070.5 773.6,2068.2 775.1,2069.2 776.5,2065.9 778.0,2067.1 779.5,2067.6 780.9,2078.9 782.4,2078.5 783.8,2082.2 785.3,2078.9 786.7,2087.0 788.2,2091.0 791.5,2074.5 792.9,2073.9 794.3,2063.6 795.7,2064.6 798.1,2074.5 799.8,2074.0 801.4,2066.3 802.8,2066.1 804.1,2069.8 805.5,2069.6 806.9,2073.0 808.3,2078.0 809.7,2081.1 814.6,2058.0 816.2,2067.3 817.9,2068.7 819.4,2069.6 820.8,2078.4 822.2,2072.9 823.7,2077.8 825.1,2072.5 826.4,2075.7 827.8,2071.2 829.2,2063.8 830.5,2062.3 831.9,2059.7 833.6,2068.2 835.2,2074.7 836.9,2076.2 838.3,2068.1 839.6,2073.5 841.0,2069.6 842.4,2071.9 843.7,2065.8 845.1,2058.0 846.5,2058.9 847.8,2059.4 849.2,2063.0 850.9,2065.3 852.5,2069.6 855.8,2051.4 857.5,2046.0 859.1,2047.3 860.8,2046.5 864.1,2061.3 865.5,2062.9 866.8,2065.2 868.2,2067.9 869.6,2070.2 870.9,2063.9 872.3,2063.0 874.0,2059.3 875.6,2068.7 877.3,2066.3 878.9,2059.5 880.6,2058.2 882.2,2056.4 884.7,2046.5 886.1,2048.3 887.4,2049.8 888.8,2053.1 890.4,2050.1 892.1,2052.8 893.7,2053.9 895.4,2064.9 897.0,2059.6 898.7,2065.4 902.0,2046.5 903.4,2044.4 904.7,2046.9 906.1,2041.5 907.7,2046.2 909.4,2048.4 911.0,2048.1 912.4,2056.4 913.8,2052.6 915.2,2064.6 916.8,2059.5 918.5,2060.6 920.1,2058.0 922.6,2041.5 924.2,2047.5 925.9,2054.6 927.5,2054.7 931.6,2038.2 932.5,2021.8 934.1,2022.8 935.8,2019.9 937.4,2020.1 942.4,1997.0 943.8,2000.4 945.1,2002.9 946.5,2006.9 947.8,2006.7 949.1,2007.2 950.5,2002.8 951.8,2000.3 953.1,2002.0 954.7,2015.2 956.2,2010.3 957.6,2014.7 959.0,2013.2 960.5,2006.9 961.9,2013.5 963.2,2016.3 964.6,2016.8 966.3,2022.8 967.9,2023.4 969.6,2026.7 973.7,2010.2 975.1,2009.9 976.4,2001.8 977.8,2002.8 980.3,2015.2 982.7,2008.6 984.2,2005.6 985.7,2001.5 987.2,2004.0 988.7,1997.4 990.2,1997.0 992.6,2005.3 995.1,2030.0 996.8,2031.3 998.4,2034.6 1000.1,2034.9 1001.5,2042.7 1002.8,2038.9 1004.2,2044.8 1005.6,2046.1 1006.9,2056.3 1008.3,2058.0 1009.9,2057.4 1011.6,2065.6 1013.2,2067.1 1018.2,2046.5 1019.9,2048.7 1021.5,2054.7 1022.9,2056.0 1024.2,2052.0 1025.6,2059.7 1028.9,2074.5 1030.6,2081.8 1032.2,2084.4 1033.6,2079.4 1034.9,2074.8 1036.3,2074.5 1037.7,2081.9 1039.0,2078.0 1040.4,2076.2 1041.8,2084.5 1043.2,2070.9 1044.6,2066.3 1046.2,2059.0 1047.9,2053.9 1049.6,2059.6 1051.2,2064.6 1052.6,2069.9 1053.9,2064.5 1055.3,2064.6 1056.9,2067.8 1058.6,2069.6 1060.2,2069.6 1061.8,2066.6 1063.4,2070.0 1065.0,2067.9 1066.6,2069.6 1068.0,2067.9 1069.5,2077.4 1071.0,2079.1 1072.4,2079.4 1074.0,2084.0 1075.7,2085.2 1077.3,2092.6 1081.4,2071.2 1083.1,2065.4 1084.7,2072.9 1089.7,2051.4 1091.1,2050.8 1092.6,2046.6 1094.0,2039.1 1095.4,2042.4 1097.1,2044.1 1098.7,2041.2 1100.4,2048.1 1102.9,2056.4 1104.5,2044.8 1106.2,2047.2 1107.8,2049.8 1111.1,2064.6 1112.5,2069.5 1113.8,2074.6 1115.2,2077.8 1120.2,2048.1 1121.6,2051.0 1122.9,2053.1 1124.3,2054.7 1130.1,2030.0 1131.8,2030.8 1133.4,2039.1 1134.8,2038.4 1136.2,2038.6 1137.7,2040.1 1139.1,2041.5 1140.8,2035.8 1142.4,2028.4 1143.7,2031.4 1145.0,2035.8 1146.4,2022.9 1147.7,2033.6 1149.0,2033.3 1152.3,2011.9 1155.6,2025.1 1158.9,2002.0 1160.5,2004.1 1162.2,2015.0 1163.8,2010.2 1167.1,1997.0 1168.8,2000.6 1170.4,1992.7 1172.1,1998.7 1173.7,1994.0 1175.4,1984.8 1177.0,1980.5 1178.4,1988.2 1179.8,1985.8 1181.2,1993.7 1185.3,1975.6 1186.6,1973.3 1187.9,1971.2 1189.3,1969.3 1190.6,1965.8 1191.9,1965.7 1193.5,1956.1 1195.2,1960.1 1196.8,1955.0 1198.2,1961.9 1199.5,1961.9 1200.9,1965.7 1202.6,1962.6 1204.2,1966.9 1205.9,1966.5 1207.6,1972.5 1209.2,1974.8 1210.8,1968.2 1212.5,1962.6 1214.1,1956.6 1215.5,1960.2 1217.0,1950.9 1218.5,1951.7 1219.9,1952.5 1221.3,1942.4 1222.6,1942.5 1224.0,1941.0 1227.3,1926.2 1228.7,1923.8 1230.0,1923.0 1231.4,1923.9 1232.8,1932.1 1234.1,1925.6 1235.5,1926.2 1239.0,1887.4 1240.8,1886.1 1242.5,1885.6 1244.0,1873.2 1246.1,1851.9 1247.5,1832.4 1249.0,1837.0 1250.5,1827.1 1251.4,1816.5 1253.5,1800.5 1254.9,1784.6 1256.7,1784.4 1258.5,1784.6 1260.3,1795.2 1261.6,1791.3 1262.9,1798.8 1263.8,1811.2 1265.4,1816.9 1267.0,1820.0 1269.1,1828.9 1270.0,1843.1 1271.8,1848.4 1272.7,1864.4 1274.1,1880.3 1276.2,1890.9 1277.6,1919.6 1280.1,1945.9 1281.8,1949.4 1283.4,1959.1 1286.6,1982.4 1288.2,1994.4 1289.9,1995.6 1291.2,1992.8 1292.5,1996.3 1293.9,1994.3 1295.2,2001.2 1296.5,2002.2 1298.1,2003.2 1299.8,2010.8 1301.4,2015.4 1303.1,2012.0 1304.7,2009.0 1306.4,2008.8 1308.1,2016.9 1309.7,2018.7 1311.1,2025.1 1312.6,2025.5 1314.0,2025.6 1315.4,2031.9 1316.8,2030.0 1318.2,2036.1 1319.6,2036.8 1321.2,2048.0 1322.9,2043.4 1324.2,2043.9 1325.5,2044.8 1326.9,2047.0 1328.2,2047.7 1329.5,2053.3 1330.9,2052.6 1332.3,2057.6 1333.8,2065.5 1335.2,2063.2 1337.7,2058.2 1339.3,2052.7 1341.0,2045.6 1342.6,2041.8 1344.2,2034.8 1345.9,2038.5 1347.6,2041.4 1349.2,2042.8 1350.9,2045.1 1355.8,2064.8 1357.5,2058.6 1359.1,2056.8 1360.8,2058.2 1362.4,2061.4 1364.1,2068.1 1365.7,2068.1 1367.4,2069.1 1369.0,2066.6 1370.7,2064.8 1372.1,2067.0 1373.4,2072.5 1374.8,2074.7 1376.4,2069.7 1378.1,2072.0 1379.7,2059.9 1381.2,2060.3 1382.6,2066.9 1384.0,2076.5 1385.5,2076.4 1387.1,2070.9 1388.8,2071.8 1390.4,2062.4 1392.1,2067.5 1393.7,2073.3 1395.4,2078.0 1397.0,2077.3 1398.7,2074.6 1400.3,2079.7 1402.0,2074.8 1403.6,2083.7 1405.3,2074.7 1407.7,2061.5 1409.1,2065.3 1410.5,2066.8 1411.9,2066.5 1413.5,2073.5 1415.2,2076.0 1416.8,2078.0 1418.2,2085.1 1419.7,2084.6 1421.1,2088.4 1422.6,2092.9 1425.1,2069.8 1426.4,2072.4 1427.7,2067.3 1429.0,2063.4 1430.3,2066.4 1431.6,2066.5 1433.3,2069.1 1434.9,2077.3 1436.6,2079.7 1438.0,2080.2 1439.5,2081.9 1441.0,2087.2 1442.4,2091.2 1444.8,2071.4 1446.1,2079.8 1447.4,2077.8 1448.8,2081.8 1450.1,2084.6 1451.4,2087.9 1452.7,2089.2 1454.0,2091.6 1455.4,2093.5 1456.7,2083.8 1458.0,2089.6 1459.3,2090.1 1460.6,2081.7 1462.0,2076.7 1463.3,2081.7 1464.6,2069.8 1465.9,2072.5 1467.2,2082.8 1468.6,2082.9 1469.9,2079.6 1471.2,2086.3 1472.5,2085.9 1473.8,2084.8 1475.2,2079.9 1476.5,2070.7 1477.8,2076.4 1479.1,2076.2 1480.4,2077.7 1481.8,2075.7 1483.1,2086.3 1484.4,2081.3 1485.7,2077.2 1487.0,2073.4 1488.4,2070.4 1489.7,2065.5 1491.0,2064.8 1492.4,2062.8 1493.7,2066.2 1495.1,2067.5 1496.5,2065.3 1497.8,2067.3 1499.2,2068.1 1500.9,2067.9 1502.5,2078.6 1504.2,2081.3 1505.5,2078.2 1506.8,2080.7 1508.2,2076.3 1509.5,2077.0 1510.8,2078.0 1512.1,2080.0 1513.4,2076.6 1514.8,2090.1 1516.1,2083.2 1517.4,2084.6 1519.0,2081.1 1520.7,2075.6 1522.3,2074.7 1523.6,2081.0 1524.9,2081.3 1526.3,2078.7 1527.6,2074.2 1528.9,2079.7 1530.5,2074.7 1532.2,2075.1 1533.8,2069.8 1535.1,2067.8 1536.4,2065.2 1537.8,2064.9 1539.1,2065.9 1540.4,2068.1 1541.7,2069.5 1543.0,2068.6 1544.4,2072.1 1545.7,2082.6 1547.0,2074.7 1548.7,2075.6 1550.3,2061.4 1552.0,2059.9 1553.7,2055.3 1555.3,2048.4 1556.9,2018.7 1558.6,2007.1 1560.2,2009.9 1561.9,2012.1 1563.5,2045.1 1565.1,2046.7 1566.6,2052.7 1568.2,2051.4 1569.8,2053.6 1571.5,2058.0 1573.2,2055.8 1574.8,2054.6 1576.5,2054.7 1580.6,2071.2 1583.9,2054.7 1585.3,2056.0 1586.6,2062.3 1588.0,2059.7 1589.7,2064.5 1591.3,2059.7 1593.0,2066.3 1594.6,2063.7 1596.3,2061.5 1597.9,2063.0 1601.2,2049.8 1602.6,2049.7 1603.9,2045.0 1605.3,2041.5 1606.7,2047.7 1608.1,2047.9 1609.5,2051.4 1611.1,2049.3 1612.7,2059.7 1616.0,2046.5 1619.3,2064.6 1620.9,2062.8 1622.6,2058.0 1624.0,2059.0 1625.4,2060.2 1626.8,2054.6 1628.1,2059.4 1629.5,2057.1 1630.9,2059.7 1632.6,2052.5 1634.2,2049.8 1636.6,2023.4 1639.9,2044.8 1641.3,2044.3 1642.7,2042.7 1644.1,2039.9 1647.4,2013.5 1649.8,1995.4 1653.1,2011.9 1655.6,2046.5 1658.1,2059.7 1659.5,2059.5 1660.8,2059.5 1662.2,2067.9 1665.5,2054.7 1667.2,2049.0 1668.8,2059.7 1670.4,2061.6 1672.1,2071.1 1673.7,2071.2 1675.4,2067.2 1677.0,2056.1 1678.7,2059.7 1680.3,2058.5 1682.0,2064.4 1683.6,2064.6 1685.0,2066.3 1686.3,2060.8 1687.7,2053.1 1691.9,2028.4 1693.5,2028.5 1695.2,2026.9 1696.8,2025.1 1698.5,1998.7 1701.8,2015.2 1703.2,2006.7 1704.5,2003.8 1705.9,2000.3 1709.2,2015.2 1712.5,2031.6 1713.9,2032.2 1715.2,2032.4 1716.6,2036.6 1719.9,2054.7 1721.5,2054.4 1723.2,2052.3 1724.8,2053.1 1726.1,2055.2 1727.4,2059.8 1728.8,2058.5 1730.1,2058.4 1731.4,2058.0 1732.9,2060.9 1734.3,2060.4 1735.8,2068.8 1737.2,2072.9 1738.6,2072.5 1739.9,2065.2 1741.3,2066.3 1743.0,2071.5 1744.6,2067.4 1746.3,2069.6 1747.9,2069.2 1749.6,2065.2 1751.2,2064.6 1752.9,2057.7 1754.5,2066.0 1756.2,2056.4 1757.5,2055.5 1758.8,2065.4 1760.1,2063.4 1761.4,2069.2 1762.7,2071.2 1766.0,2087.7 1769.3,2071.2 1770.9,2066.1 1772.6,2066.3 1774.2,2066.6 1775.9,2069.6 1777.6,2072.6 1779.2,2076.0 1780.9,2069.6 1782.5,2066.2 1784.2,2068.5 1785.8,2067.9 1789.1,2041.5 1790.8,2031.6 1794.1,2046.5 1795.7,2055.1 1797.4,2055.4 1799.0,2063.0 1800.4,2069.7 1801.7,2069.2 1803.1,2076.2 1807.3,2056.4 1808.7,2062.9 1810.2,2066.9 1811.6,2074.0 1813.0,2074.5 1817.1,2056.4 1820.4,2038.2 1823.7,2054.7 1825.3,2059.2 1827.0,2061.3 1828.7,2059.0 1830.3,2066.8 1832.0,2066.3 1833.3,2061.7 1834.6,2066.8 1836.0,2068.3 1837.3,2064.3 1838.6,2061.3 1840.1,2064.3 1841.5,2075.0 1843.0,2075.9 1844.6,2075.1 1846.3,2069.1 1847.9,2071.8 1849.3,2068.2 1850.6,2071.6 1852.0,2063.4 1853.3,2062.4 1854.7,2059.5 1857.5,2045.7 1860.2,2063.6 1863.0,2075.9 1864.4,2070.2 1865.7,2061.2 1867.1,2062.2 1868.5,2061.4 1869.8,2065.2 1871.2,2064.9 1872.6,2068.3 1874.0,2069.8 1875.3,2066.1 1876.7,2075.9 1881.5,2054.0 1884.9,2067.7 1886.3,2068.1 1887.7,2062.7 1889.1,2056.7 1890.5,2064.2 1891.8,2069.2 1893.2,2067.6 1894.6,2073.2 1896.0,2068.5 1897.3,2068.7 1898.7,2070.5 1900.1,2062.2 1904.9,2084.2 1909.7,2064.9 1911.1,2062.8 1912.4,2071.0 1913.8,2072.8 1915.2,2080.5 1916.5,2086.9 1917.9,2085.5 1922.0,2064.9 1923.4,2068.1 1924.8,2069.1 1926.2,2077.3 1927.6,2076.1 1928.9,2073.6 1930.3,2073.2 1931.7,2065.4 1933.0,2070.6 1934.4,2063.2 1935.8,2062.2 1937.2,2067.7 1938.5,2064.3 1939.9,2075.4 1941.3,2070.2 1942.6,2081.7 1944.0,2081.4 1948.8,2058.1 1950.4,2055.3 1952.0,2069.1 1953.6,2067.7 1956.4,2084.2 1957.8,2078.4 1959.1,2069.9 1960.5,2070.4 1961.9,2072.4 1963.3,2077.0 1964.6,2075.4 1966.0,2079.8 1967.4,2084.2 1968.8,2082.3 1970.1,2078.1 1971.5,2065.8 1972.8,2071.7 1974.2,2070.4 1976.0,2070.5 1977.7,2067.7 1979.3,2073.2 1980.9,2080.2 1982.5,2081.4 1983.9,2077.7 1985.2,2087.1 1986.6,2079.9 1988.0,2075.9 1989.4,2076.9 1990.7,2079.5 1992.1,2079.0 1993.4,2076.2 1994.8,2075.9 1996.2,2075.2 1997.5,2082.0 1998.9,2081.4 2000.3,2081.4 2001.7,2072.1 2003.0,2071.6 2004.4,2073.7 2005.8,2069.1 2007.2,2068.5 2008.5,2068.2 2009.9,2066.3 2015.4,2088.3 2016.8,2086.8 2018.2,2081.4 2019.6,2077.3 2021.0,2081.8 2022.3,2074.0 2023.7,2074.0 2025.1,2074.6 2026.5,2077.6 2027.8,2080.9 2029.2,2083.0 2030.5,2087.2 2031.9,2084.2 2033.3,2082.6 2034.7,2088.1 2036.0,2085.7 2037.4,2080.8 2038.8,2084.2 2040.2,2087.4 2041.5,2098.4 2042.9,2095.2 2048.4,2069.1 2052.5,2085.5 2053.9,2085.8 2055.2,2079.4 2056.6,2078.7 2059.4,2063.6 2060.8,2056.3 2062.1,2064.9 2063.8,2067.3 2065.6,2074.6" fill="none" stroke="#ff0000" stroke-width="2.4" stroke-linejoin="round"/>
</svg></body></html>
